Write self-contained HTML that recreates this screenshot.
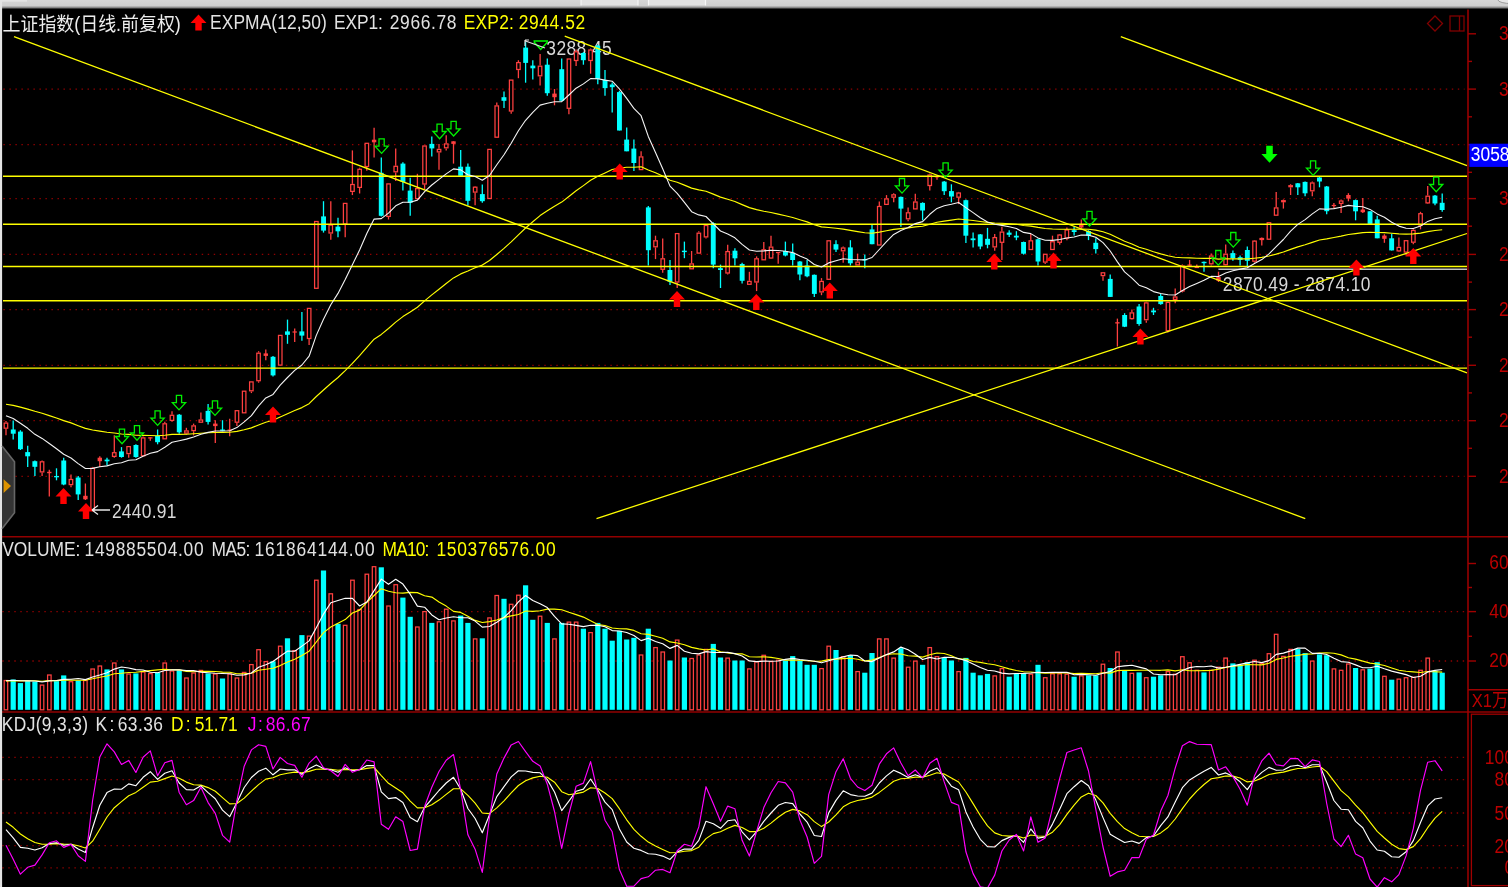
<!DOCTYPE html>
<html><head><meta charset="utf-8"><title>上证指数</title>
<style>html,body{margin:0;padding:0;background:#000;overflow:hidden}body{width:1508px;height:887px;position:relative}</style></head>
<body>
<svg width="1528" height="907" viewBox="-10 -10 1528 907" style="position:absolute;left:-10px;top:-10px;display:block;filter:blur(0.45px)" font-family="'Liberation Sans','Noto Sans CJK SC',sans-serif">
<defs><linearGradient id="tg" gradientUnits="userSpaceOnUse" x1="0" y1="0" x2="0" y2="9.5"><stop offset="0" stop-color="#d6d6d6"/><stop offset="0.6" stop-color="#cecece"/><stop offset="0.78" stop-color="#909090"/><stop offset="0.95" stop-color="#101010"/><stop offset="1" stop-color="#000"/></linearGradient></defs>
<rect x="-10" y="-10" width="1528" height="907" fill="#000"/>
<line x1="3.4" y1="89.1" x2="1464.5" y2="89.1" stroke="#900000" stroke-width="1.3" stroke-dasharray="1.4 4.61"/>
<line x1="3.4" y1="144.7" x2="1464.5" y2="144.7" stroke="#900000" stroke-width="1.3" stroke-dasharray="1.4 4.61"/>
<line x1="3.4" y1="198.6" x2="1464.5" y2="198.6" stroke="#900000" stroke-width="1.3" stroke-dasharray="1.4 4.61"/>
<line x1="3.4" y1="254.4" x2="1464.5" y2="254.4" stroke="#900000" stroke-width="1.3" stroke-dasharray="1.4 4.61"/>
<line x1="3.4" y1="309.6" x2="1464.5" y2="309.6" stroke="#900000" stroke-width="1.3" stroke-dasharray="1.4 4.61"/>
<line x1="3.4" y1="365.3" x2="1464.5" y2="365.3" stroke="#900000" stroke-width="1.3" stroke-dasharray="1.4 4.61"/>
<line x1="3.4" y1="420.7" x2="1464.5" y2="420.7" stroke="#900000" stroke-width="1.3" stroke-dasharray="1.4 4.61"/>
<line x1="3.4" y1="476.3" x2="1464.5" y2="476.3" stroke="#900000" stroke-width="1.3" stroke-dasharray="1.4 4.61"/>
<line x1="2.3" y1="611.6" x2="1464.5" y2="611.6" stroke="#900000" stroke-width="1.3" stroke-dasharray="1.4 4.61"/>
<line x1="2.3" y1="661" x2="1464.5" y2="661" stroke="#900000" stroke-width="1.3" stroke-dasharray="1.4 4.61"/>
<line x1="2.3" y1="757.4" x2="1464.5" y2="757.4" stroke="#900000" stroke-width="1.3" stroke-dasharray="1.4 4.61"/>
<line x1="2.3" y1="779.6" x2="1464.5" y2="779.6" stroke="#900000" stroke-width="1.3" stroke-dasharray="1.4 4.61"/>
<line x1="2.3" y1="813" x2="1464.5" y2="813" stroke="#900000" stroke-width="1.3" stroke-dasharray="1.4 4.61"/>
<line x1="2.3" y1="845.7" x2="1464.5" y2="845.7" stroke="#900000" stroke-width="1.3" stroke-dasharray="1.4 4.61"/>
<line x1="2.3" y1="867.8" x2="1464.5" y2="867.8" stroke="#900000" stroke-width="1.3" stroke-dasharray="1.4 4.61"/>
<text transform="translate(546.3,54.6) scale(1,1.14)" fill="#d8d8d8" font-size="17.4" letter-spacing="0.416">3288.45</text>
<text transform="translate(111.9,517.7) scale(1,1.14)" fill="#d8d8d8" font-size="17.4" letter-spacing="0.271">2440.91</text>
<text transform="translate(1222.8,291) scale(1,1.14)" fill="#d8d8d8" font-size="17.4" letter-spacing="0.412">2870.49 - 2874.10</text>
<line x1="6" y1="421.1" x2="6" y2="422.5" stroke="#ff4040" stroke-width="1.3"/>
<line x1="6" y1="428.8" x2="6" y2="435.2" stroke="#ff4040" stroke-width="1.3"/>
<rect x="4.2" y="423.1" width="3.5" height="5.1" fill="#000" stroke="#ff4040" stroke-width="1.25"/>
<line x1="13.2" y1="420.4" x2="13.2" y2="439.4" stroke="#00ffff" stroke-width="1.3"/>
<rect x="10.8" y="429.5" width="4.9" height="4.2" fill="#00ffff"/>
<line x1="20.4" y1="430.2" x2="20.4" y2="450" stroke="#00ffff" stroke-width="1.3"/>
<rect x="18" y="431.6" width="4.9" height="17.6" fill="#00ffff"/>
<line x1="27.7" y1="445.7" x2="27.7" y2="466.9" stroke="#00ffff" stroke-width="1.3"/>
<rect x="25.2" y="452.1" width="4.9" height="4.2" fill="#00ffff"/>
<line x1="34.9" y1="460.5" x2="34.9" y2="476" stroke="#00ffff" stroke-width="1.3"/>
<rect x="32.4" y="461.2" width="4.9" height="5.6" fill="#00ffff"/>
<line x1="42.1" y1="460.5" x2="42.1" y2="461.2" stroke="#ff4040" stroke-width="1.3"/>
<line x1="42.1" y1="472.5" x2="42.1" y2="476" stroke="#ff4040" stroke-width="1.3"/>
<rect x="40.3" y="461.8" width="3.5" height="10.1" fill="#000" stroke="#ff4040" stroke-width="1.25"/>
<line x1="49.3" y1="469.7" x2="49.3" y2="496.5" stroke="#ff4040" stroke-width="1.3"/>
<rect x="47.1" y="471.8" width="4.4" height="1.4" fill="#ff4040"/>
<line x1="56.5" y1="468.3" x2="56.5" y2="480.3" stroke="#00ffff" stroke-width="1.3"/>
<rect x="54.1" y="476" width="4.9" height="1.3" fill="#00ffff"/>
<line x1="63.7" y1="457.7" x2="63.7" y2="485.2" stroke="#00ffff" stroke-width="1.3"/>
<rect x="61.3" y="460.5" width="4.9" height="24" fill="#00ffff"/>
<line x1="71" y1="474.6" x2="71" y2="478.9" stroke="#ff4040" stroke-width="1.3"/>
<line x1="71" y1="485.2" x2="71" y2="487.3" stroke="#ff4040" stroke-width="1.3"/>
<rect x="69.2" y="479.5" width="3.5" height="5.1" fill="#000" stroke="#ff4040" stroke-width="1.25"/>
<line x1="78.2" y1="476" x2="78.2" y2="500" stroke="#00ffff" stroke-width="1.3"/>
<rect x="75.7" y="477.5" width="4.9" height="16.9" fill="#00ffff"/>
<line x1="85.4" y1="483.5" x2="85.4" y2="500" stroke="#ff4040" stroke-width="1.3"/>
<rect x="83.2" y="495.8" width="4.4" height="3.5" fill="#ff4040"/>
<line x1="92.6" y1="466.9" x2="92.6" y2="467.6" stroke="#ff4040" stroke-width="1.3"/>
<rect x="90.9" y="468.2" width="3.5" height="41.8" fill="#000" stroke="#ff4040" stroke-width="1.25"/>
<line x1="99.8" y1="456.3" x2="99.8" y2="466.9" stroke="#ff4040" stroke-width="1.3"/>
<rect x="97.6" y="457.7" width="4.4" height="3.5" fill="#ff4040"/>
<line x1="107" y1="457.7" x2="107" y2="465.5" stroke="#00ffff" stroke-width="1.3"/>
<rect x="104.6" y="459.6" width="4.9" height="1.7" fill="#00ffff"/>
<line x1="114.3" y1="435.2" x2="114.3" y2="452.1" stroke="#ff4040" stroke-width="1.3"/>
<line x1="114.3" y1="457" x2="114.3" y2="457.7" stroke="#ff4040" stroke-width="1.3"/>
<rect x="112.5" y="452.7" width="3.5" height="3.7" fill="#000" stroke="#ff4040" stroke-width="1.25"/>
<line x1="121.5" y1="447.1" x2="121.5" y2="457.7" stroke="#00ffff" stroke-width="1.3"/>
<rect x="119" y="451.4" width="4.9" height="5.6" fill="#00ffff"/>
<line x1="128.7" y1="454.2" x2="128.7" y2="457.7" stroke="#ff4040" stroke-width="1.3"/>
<rect x="126.9" y="446.6" width="3.5" height="7" fill="#000" stroke="#ff4040" stroke-width="1.25"/>
<line x1="135.9" y1="444.3" x2="135.9" y2="457.7" stroke="#00ffff" stroke-width="1.3"/>
<rect x="133.5" y="445" width="4.9" height="12" fill="#00ffff"/>
<line x1="143.1" y1="436.6" x2="143.1" y2="437.3" stroke="#ff4040" stroke-width="1.3"/>
<rect x="141.4" y="437.9" width="3.5" height="17.8" fill="#000" stroke="#ff4040" stroke-width="1.25"/>
<line x1="150.3" y1="437.3" x2="150.3" y2="440.8" stroke="#ff4040" stroke-width="1.3"/>
<rect x="148.1" y="437.3" width="4.4" height="1.2" fill="#ff4040"/>
<line x1="157.6" y1="429.5" x2="157.6" y2="444.3" stroke="#00ffff" stroke-width="1.3"/>
<rect x="155.1" y="435.9" width="4.9" height="6.3" fill="#00ffff"/>
<line x1="164.8" y1="421.8" x2="164.8" y2="423.2" stroke="#ff4040" stroke-width="1.3"/>
<rect x="163" y="423.8" width="3.5" height="15" fill="#000" stroke="#ff4040" stroke-width="1.25"/>
<line x1="172" y1="411.2" x2="172" y2="414.7" stroke="#ff4040" stroke-width="1.3"/>
<line x1="172" y1="421.1" x2="172" y2="421.8" stroke="#ff4040" stroke-width="1.3"/>
<rect x="170.2" y="415.3" width="3.5" height="5.1" fill="#000" stroke="#ff4040" stroke-width="1.25"/>
<line x1="179.2" y1="414" x2="179.2" y2="433.8" stroke="#00ffff" stroke-width="1.3"/>
<rect x="176.8" y="414.7" width="4.9" height="17.6" fill="#00ffff"/>
<line x1="186.4" y1="427.8" x2="186.4" y2="430.3" stroke="#ff4040" stroke-width="1.3"/>
<line x1="186.4" y1="433.7" x2="186.4" y2="434.6" stroke="#ff4040" stroke-width="1.3"/>
<rect x="184.7" y="430.9" width="3.5" height="2.2" fill="#000" stroke="#ff4040" stroke-width="1.25"/>
<line x1="193.6" y1="423.6" x2="193.6" y2="425.3" stroke="#ff4040" stroke-width="1.3"/>
<line x1="193.6" y1="431.2" x2="193.6" y2="435.4" stroke="#ff4040" stroke-width="1.3"/>
<rect x="191.9" y="425.9" width="3.5" height="4.7" fill="#000" stroke="#ff4040" stroke-width="1.25"/>
<line x1="200.9" y1="412.6" x2="200.9" y2="419.4" stroke="#ff4040" stroke-width="1.3"/>
<rect x="199.1" y="420" width="3.5" height="2.2" fill="#000" stroke="#ff4040" stroke-width="1.25"/>
<line x1="208.1" y1="404.1" x2="208.1" y2="424.4" stroke="#00ffff" stroke-width="1.3"/>
<rect x="205.6" y="410.9" width="4.9" height="11" fill="#00ffff"/>
<line x1="215.3" y1="420.2" x2="215.3" y2="442.9" stroke="#ff4040" stroke-width="1.3"/>
<rect x="213.1" y="423.6" width="4.4" height="2.5" fill="#ff4040"/>
<line x1="222.5" y1="420.2" x2="222.5" y2="431.2" stroke="#00ffff" stroke-width="1.3"/>
<rect x="220.1" y="429.5" width="4.9" height="1.3" fill="#00ffff"/>
<line x1="229.7" y1="418.8" x2="229.7" y2="436.3" stroke="#ff4040" stroke-width="1.3"/>
<rect x="227.5" y="429.5" width="4.4" height="1.2" fill="#ff4040"/>
<line x1="236.9" y1="422.7" x2="236.9" y2="426.1" stroke="#ff4040" stroke-width="1.3"/>
<rect x="235.2" y="410.7" width="3.5" height="11.5" fill="#000" stroke="#ff4040" stroke-width="1.25"/>
<rect x="242.4" y="391.2" width="3.5" height="21.6" fill="#000" stroke="#ff4040" stroke-width="1.25"/>
<line x1="251.4" y1="391.5" x2="251.4" y2="393.1" stroke="#ff4040" stroke-width="1.3"/>
<rect x="249.6" y="381.9" width="3.5" height="8.9" fill="#000" stroke="#ff4040" stroke-width="1.25"/>
<line x1="258.6" y1="351.2" x2="258.6" y2="352.6" stroke="#ff4040" stroke-width="1.3"/>
<line x1="258.6" y1="381.3" x2="258.6" y2="382.7" stroke="#ff4040" stroke-width="1.3"/>
<rect x="256.8" y="353.2" width="3.5" height="27.5" fill="#000" stroke="#ff4040" stroke-width="1.25"/>
<line x1="265.8" y1="349.5" x2="265.8" y2="360.2" stroke="#ff4040" stroke-width="1.3"/>
<rect x="263.6" y="353.4" width="4.4" height="2.5" fill="#ff4040"/>
<line x1="273" y1="355.9" x2="273" y2="376.6" stroke="#00ffff" stroke-width="1.3"/>
<rect x="270.6" y="356.8" width="4.9" height="18.6" fill="#00ffff"/>
<rect x="278.5" y="335.4" width="3.5" height="29.7" fill="#000" stroke="#ff4040" stroke-width="1.25"/>
<line x1="287.5" y1="319.6" x2="287.5" y2="343.8" stroke="#00ffff" stroke-width="1.3"/>
<rect x="285" y="331.4" width="4.9" height="3.4" fill="#00ffff"/>
<line x1="294.7" y1="328.6" x2="294.7" y2="342.1" stroke="#ff4040" stroke-width="1.3"/>
<rect x="292.5" y="331.4" width="4.4" height="1.2" fill="#ff4040"/>
<line x1="301.9" y1="312" x2="301.9" y2="340.7" stroke="#00ffff" stroke-width="1.3"/>
<rect x="299.4" y="331.4" width="4.9" height="4.2" fill="#00ffff"/>
<line x1="309.1" y1="339" x2="309.1" y2="345" stroke="#ff4040" stroke-width="1.3"/>
<rect x="307.4" y="308.4" width="3.5" height="30.1" fill="#000" stroke="#ff4040" stroke-width="1.25"/>
<rect x="314.6" y="221.5" width="3.5" height="66.8" fill="#000" stroke="#ff4040" stroke-width="1.25"/>
<line x1="323.5" y1="201.2" x2="323.5" y2="232.6" stroke="#00ffff" stroke-width="1.3"/>
<rect x="321.1" y="216.4" width="4.9" height="14.2" fill="#00ffff"/>
<line x1="330.8" y1="201.2" x2="330.8" y2="224.5" stroke="#ff4040" stroke-width="1.3"/>
<line x1="330.8" y1="233.7" x2="330.8" y2="239.7" stroke="#ff4040" stroke-width="1.3"/>
<rect x="329" y="225.1" width="3.5" height="7.9" fill="#000" stroke="#ff4040" stroke-width="1.25"/>
<line x1="338" y1="217.8" x2="338" y2="237.3" stroke="#00ffff" stroke-width="1.3"/>
<rect x="335.5" y="226.6" width="4.9" height="4.7" fill="#00ffff"/>
<line x1="345.2" y1="224.5" x2="345.2" y2="237.3" stroke="#ff4040" stroke-width="1.3"/>
<rect x="343.4" y="203.4" width="3.5" height="20.5" fill="#000" stroke="#ff4040" stroke-width="1.25"/>
<line x1="352.4" y1="150.4" x2="352.4" y2="183.9" stroke="#ff4040" stroke-width="1.3"/>
<line x1="352.4" y1="192.1" x2="352.4" y2="195.1" stroke="#ff4040" stroke-width="1.3"/>
<rect x="350.7" y="184.5" width="3.5" height="6.9" fill="#000" stroke="#ff4040" stroke-width="1.25"/>
<line x1="359.6" y1="167.7" x2="359.6" y2="168.7" stroke="#ff4040" stroke-width="1.3"/>
<line x1="359.6" y1="188" x2="359.6" y2="193.5" stroke="#ff4040" stroke-width="1.3"/>
<rect x="357.9" y="169.3" width="3.5" height="18.1" fill="#000" stroke="#ff4040" stroke-width="1.25"/>
<line x1="366.8" y1="167.1" x2="366.8" y2="170.7" stroke="#ff4040" stroke-width="1.3"/>
<rect x="365.1" y="143.3" width="3.5" height="23.2" fill="#000" stroke="#ff4040" stroke-width="1.25"/>
<line x1="374.1" y1="127.7" x2="374.1" y2="157.5" stroke="#ff4040" stroke-width="1.3"/>
<rect x="371.9" y="139.7" width="4.4" height="2.6" fill="#ff4040"/>
<line x1="381.3" y1="157.5" x2="381.3" y2="216.4" stroke="#00ffff" stroke-width="1.3"/>
<rect x="378.8" y="172.8" width="4.9" height="43" fill="#00ffff"/>
<line x1="388.5" y1="217" x2="388.5" y2="219.5" stroke="#ff4040" stroke-width="1.3"/>
<rect x="386.8" y="183.9" width="3.5" height="32.5" fill="#000" stroke="#ff4040" stroke-width="1.25"/>
<line x1="395.7" y1="148.4" x2="395.7" y2="165.7" stroke="#ff4040" stroke-width="1.3"/>
<line x1="395.7" y1="172.4" x2="395.7" y2="180.9" stroke="#ff4040" stroke-width="1.3"/>
<rect x="394" y="166.3" width="3.5" height="5.5" fill="#000" stroke="#ff4040" stroke-width="1.25"/>
<line x1="402.9" y1="162.2" x2="402.9" y2="190.6" stroke="#00ffff" stroke-width="1.3"/>
<rect x="400.5" y="163.6" width="4.9" height="18.3" fill="#00ffff"/>
<line x1="410.2" y1="177.8" x2="410.2" y2="215.8" stroke="#00ffff" stroke-width="1.3"/>
<rect x="407.7" y="190.6" width="4.9" height="12.2" fill="#00ffff"/>
<line x1="417.4" y1="173.8" x2="417.4" y2="188" stroke="#ff4040" stroke-width="1.3"/>
<rect x="415.6" y="188.6" width="3.5" height="10" fill="#000" stroke="#ff4040" stroke-width="1.25"/>
<line x1="424.6" y1="184.5" x2="424.6" y2="189" stroke="#ff4040" stroke-width="1.3"/>
<rect x="422.8" y="146" width="3.5" height="38" fill="#000" stroke="#ff4040" stroke-width="1.25"/>
<line x1="431.8" y1="136.6" x2="431.8" y2="156.5" stroke="#00ffff" stroke-width="1.3"/>
<rect x="429.4" y="143.9" width="4.9" height="4.5" fill="#00ffff"/>
<line x1="439" y1="143.9" x2="439" y2="148.8" stroke="#ff4040" stroke-width="1.3"/>
<line x1="439" y1="152.5" x2="439" y2="169.7" stroke="#ff4040" stroke-width="1.3"/>
<rect x="437.3" y="149.4" width="3.5" height="2.5" fill="#000" stroke="#ff4040" stroke-width="1.25"/>
<line x1="446.2" y1="135.2" x2="446.2" y2="143.3" stroke="#ff4040" stroke-width="1.3"/>
<line x1="446.2" y1="148.4" x2="446.2" y2="150.4" stroke="#ff4040" stroke-width="1.3"/>
<rect x="444.5" y="143.9" width="3.5" height="3.9" fill="#000" stroke="#ff4040" stroke-width="1.25"/>
<line x1="453.5" y1="141.3" x2="453.5" y2="163.6" stroke="#ff4040" stroke-width="1.3"/>
<rect x="451.3" y="141.3" width="4.4" height="2.6" fill="#ff4040"/>
<line x1="460.7" y1="150" x2="460.7" y2="175.8" stroke="#00ffff" stroke-width="1.3"/>
<rect x="458.2" y="166.7" width="4.9" height="9.1" fill="#00ffff"/>
<line x1="467.9" y1="163.6" x2="467.9" y2="205.2" stroke="#00ffff" stroke-width="1.3"/>
<rect x="465.4" y="166.7" width="4.9" height="34.1" fill="#00ffff"/>
<line x1="475.1" y1="186" x2="475.1" y2="186.6" stroke="#ff4040" stroke-width="1.3"/>
<line x1="475.1" y1="192.7" x2="475.1" y2="205.2" stroke="#ff4040" stroke-width="1.3"/>
<rect x="473.4" y="187.2" width="3.5" height="4.9" fill="#000" stroke="#ff4040" stroke-width="1.25"/>
<line x1="482.3" y1="184.5" x2="482.3" y2="202.8" stroke="#00ffff" stroke-width="1.3"/>
<rect x="479.9" y="194.1" width="4.9" height="7.1" fill="#00ffff"/>
<rect x="487.8" y="149.4" width="3.5" height="49.1" fill="#000" stroke="#ff4040" stroke-width="1.25"/>
<line x1="496.8" y1="102.6" x2="496.8" y2="105.3" stroke="#ff4040" stroke-width="1.3"/>
<rect x="495" y="105.9" width="3.5" height="31.3" fill="#000" stroke="#ff4040" stroke-width="1.25"/>
<line x1="504" y1="91.4" x2="504" y2="108" stroke="#00ffff" stroke-width="1.3"/>
<rect x="501.5" y="97.2" width="4.9" height="3.6" fill="#00ffff"/>
<line x1="511.2" y1="111.6" x2="511.2" y2="113.8" stroke="#ff4040" stroke-width="1.3"/>
<rect x="509.4" y="80.1" width="3.5" height="30.9" fill="#000" stroke="#ff4040" stroke-width="1.25"/>
<line x1="518.4" y1="60.2" x2="518.4" y2="62" stroke="#ff4040" stroke-width="1.3"/>
<line x1="518.4" y1="70.1" x2="518.4" y2="78.2" stroke="#ff4040" stroke-width="1.3"/>
<rect x="516.7" y="62.6" width="3.5" height="6.9" fill="#000" stroke="#ff4040" stroke-width="1.25"/>
<line x1="525.6" y1="42.1" x2="525.6" y2="82.7" stroke="#00ffff" stroke-width="1.3"/>
<rect x="523.2" y="47.6" width="4.9" height="15.3" fill="#00ffff"/>
<line x1="532.8" y1="60.2" x2="532.8" y2="79.5" stroke="#00ffff" stroke-width="1.3"/>
<rect x="530.4" y="65.6" width="4.9" height="2.7" fill="#00ffff"/>
<line x1="540.1" y1="53.9" x2="540.1" y2="65.6" stroke="#ff4040" stroke-width="1.3"/>
<line x1="540.1" y1="76.4" x2="540.1" y2="85.4" stroke="#ff4040" stroke-width="1.3"/>
<rect x="538.3" y="66.2" width="3.5" height="9.6" fill="#000" stroke="#ff4040" stroke-width="1.25"/>
<line x1="547.3" y1="58.4" x2="547.3" y2="95.7" stroke="#00ffff" stroke-width="1.3"/>
<rect x="544.8" y="64.7" width="4.9" height="28.5" fill="#00ffff"/>
<line x1="554.5" y1="89" x2="554.5" y2="105.3" stroke="#ff4040" stroke-width="1.3"/>
<rect x="552.3" y="93.6" width="4.4" height="3.6" fill="#ff4040"/>
<line x1="561.7" y1="58.4" x2="561.7" y2="100.8" stroke="#00ffff" stroke-width="1.3"/>
<rect x="559.3" y="69.2" width="4.9" height="31.6" fill="#00ffff"/>
<line x1="568.9" y1="108.9" x2="568.9" y2="114.3" stroke="#ff4040" stroke-width="1.3"/>
<rect x="567.2" y="59" width="3.5" height="49.3" fill="#000" stroke="#ff4040" stroke-width="1.25"/>
<line x1="576.1" y1="49.4" x2="576.1" y2="51.2" stroke="#ff4040" stroke-width="1.3"/>
<line x1="576.1" y1="61.1" x2="576.1" y2="66.1" stroke="#ff4040" stroke-width="1.3"/>
<rect x="574.4" y="51.8" width="3.5" height="8.7" fill="#000" stroke="#ff4040" stroke-width="1.25"/>
<line x1="583.4" y1="52.1" x2="583.4" y2="64.7" stroke="#00ffff" stroke-width="1.3"/>
<rect x="580.9" y="53" width="4.9" height="7.2" fill="#00ffff"/>
<line x1="590.6" y1="48.5" x2="590.6" y2="49.4" stroke="#ff4040" stroke-width="1.3"/>
<line x1="590.6" y1="61.1" x2="590.6" y2="73.7" stroke="#ff4040" stroke-width="1.3"/>
<rect x="588.8" y="50" width="3.5" height="10.5" fill="#000" stroke="#ff4040" stroke-width="1.25"/>
<line x1="597.8" y1="44.8" x2="597.8" y2="84.2" stroke="#00ffff" stroke-width="1.3"/>
<rect x="595.3" y="45.7" width="4.9" height="33.4" fill="#00ffff"/>
<line x1="605" y1="70.1" x2="605" y2="95.7" stroke="#00ffff" stroke-width="1.3"/>
<rect x="602.6" y="80" width="4.9" height="8.1" fill="#00ffff"/>
<line x1="612.2" y1="82.4" x2="612.2" y2="112.5" stroke="#00ffff" stroke-width="1.3"/>
<rect x="609.8" y="84.5" width="4.9" height="2.7" fill="#00ffff"/>
<line x1="619.4" y1="90.8" x2="619.4" y2="130.5" stroke="#00ffff" stroke-width="1.3"/>
<rect x="617" y="92.1" width="4.9" height="38.4" fill="#00ffff"/>
<line x1="626.7" y1="127.5" x2="626.7" y2="151.3" stroke="#00ffff" stroke-width="1.3"/>
<rect x="624.2" y="139.6" width="4.9" height="11.7" fill="#00ffff"/>
<line x1="633.9" y1="139.6" x2="633.9" y2="171.1" stroke="#00ffff" stroke-width="1.3"/>
<rect x="631.4" y="148.6" width="4.9" height="14.4" fill="#00ffff"/>
<line x1="641.1" y1="151.3" x2="641.1" y2="156.3" stroke="#ff4040" stroke-width="1.3"/>
<rect x="639.3" y="156.9" width="3.5" height="12.7" fill="#000" stroke="#ff4040" stroke-width="1.25"/>
<line x1="648.3" y1="205.9" x2="648.3" y2="265.5" stroke="#00ffff" stroke-width="1.3"/>
<rect x="645.9" y="207.4" width="4.9" height="42.8" fill="#00ffff"/>
<line x1="655.5" y1="235.7" x2="655.5" y2="240.2" stroke="#ff4040" stroke-width="1.3"/>
<line x1="655.5" y1="247.4" x2="655.5" y2="259.1" stroke="#ff4040" stroke-width="1.3"/>
<rect x="653.8" y="240.8" width="3.5" height="6" fill="#000" stroke="#ff4040" stroke-width="1.25"/>
<line x1="662.7" y1="238.4" x2="662.7" y2="258.2" stroke="#ff4040" stroke-width="1.3"/>
<line x1="662.7" y1="270" x2="662.7" y2="272.7" stroke="#ff4040" stroke-width="1.3"/>
<rect x="661" y="258.8" width="3.5" height="10.5" fill="#000" stroke="#ff4040" stroke-width="1.25"/>
<line x1="670" y1="260" x2="670" y2="284.9" stroke="#00ffff" stroke-width="1.3"/>
<rect x="667.5" y="270" width="4.9" height="11.7" fill="#00ffff"/>
<line x1="677.2" y1="282.6" x2="677.2" y2="288" stroke="#ff4040" stroke-width="1.3"/>
<rect x="675.4" y="233.6" width="3.5" height="48.4" fill="#000" stroke="#ff4040" stroke-width="1.25"/>
<line x1="684.4" y1="241.6" x2="684.4" y2="258.2" stroke="#00ffff" stroke-width="1.3"/>
<rect x="681.9" y="250.7" width="4.9" height="1.4" fill="#00ffff"/>
<line x1="691.6" y1="251" x2="691.6" y2="263.3" stroke="#ff4040" stroke-width="1.3"/>
<rect x="689.9" y="263.9" width="3.5" height="4.9" fill="#000" stroke="#ff4040" stroke-width="1.25"/>
<line x1="698.8" y1="231.2" x2="698.8" y2="232.6" stroke="#ff4040" stroke-width="1.3"/>
<rect x="697.1" y="233.2" width="3.5" height="19.9" fill="#000" stroke="#ff4040" stroke-width="1.25"/>
<line x1="706" y1="237.5" x2="706" y2="238.4" stroke="#ff4040" stroke-width="1.3"/>
<rect x="704.3" y="225.5" width="3.5" height="11.4" fill="#000" stroke="#ff4040" stroke-width="1.25"/>
<line x1="713.3" y1="222.2" x2="713.3" y2="268.2" stroke="#00ffff" stroke-width="1.3"/>
<rect x="710.8" y="223.1" width="4.9" height="41.5" fill="#00ffff"/>
<line x1="720.5" y1="264.6" x2="720.5" y2="288" stroke="#00ffff" stroke-width="1.3"/>
<rect x="718" y="268.2" width="4.9" height="1.8" fill="#00ffff"/>
<line x1="727.7" y1="244.7" x2="727.7" y2="251" stroke="#ff4040" stroke-width="1.3"/>
<line x1="727.7" y1="273.6" x2="727.7" y2="274.5" stroke="#ff4040" stroke-width="1.3"/>
<rect x="725.9" y="251.6" width="3.5" height="21.4" fill="#000" stroke="#ff4040" stroke-width="1.25"/>
<line x1="734.9" y1="248.3" x2="734.9" y2="265.5" stroke="#00ffff" stroke-width="1.3"/>
<rect x="732.5" y="250.7" width="4.9" height="7.6" fill="#00ffff"/>
<line x1="742.1" y1="262.8" x2="742.1" y2="283.5" stroke="#00ffff" stroke-width="1.3"/>
<rect x="739.7" y="264" width="4.9" height="16.8" fill="#00ffff"/>
<line x1="749.4" y1="271.8" x2="749.4" y2="280.8" stroke="#ff4040" stroke-width="1.3"/>
<rect x="747.6" y="281.4" width="3.5" height="2.9" fill="#000" stroke="#ff4040" stroke-width="1.25"/>
<line x1="756.6" y1="256.4" x2="756.6" y2="258.2" stroke="#ff4040" stroke-width="1.3"/>
<line x1="756.6" y1="282.6" x2="756.6" y2="291.1" stroke="#ff4040" stroke-width="1.3"/>
<rect x="754.8" y="258.8" width="3.5" height="23.2" fill="#000" stroke="#ff4040" stroke-width="1.25"/>
<line x1="763.8" y1="242" x2="763.8" y2="249.2" stroke="#ff4040" stroke-width="1.3"/>
<rect x="762" y="249.8" width="3.5" height="10" fill="#000" stroke="#ff4040" stroke-width="1.25"/>
<line x1="771" y1="235.7" x2="771" y2="246.5" stroke="#ff4040" stroke-width="1.3"/>
<line x1="771" y1="258.6" x2="771" y2="259.1" stroke="#ff4040" stroke-width="1.3"/>
<rect x="769.3" y="247.1" width="3.5" height="10.9" fill="#000" stroke="#ff4040" stroke-width="1.25"/>
<line x1="778.2" y1="251.9" x2="778.2" y2="263.7" stroke="#ff4040" stroke-width="1.3"/>
<rect x="776" y="251.9" width="4.4" height="1.3" fill="#ff4040"/>
<line x1="785.4" y1="241.6" x2="785.4" y2="256.4" stroke="#00ffff" stroke-width="1.3"/>
<rect x="783" y="251" width="4.9" height="4.5" fill="#00ffff"/>
<line x1="792.7" y1="243.5" x2="792.7" y2="265.5" stroke="#00ffff" stroke-width="1.3"/>
<rect x="790.2" y="252.8" width="4.9" height="7.2" fill="#00ffff"/>
<line x1="799.9" y1="261" x2="799.9" y2="280.3" stroke="#00ffff" stroke-width="1.3"/>
<rect x="797.4" y="261.5" width="4.9" height="13" fill="#00ffff"/>
<line x1="807.1" y1="260" x2="807.1" y2="277.2" stroke="#00ffff" stroke-width="1.3"/>
<rect x="804.6" y="265.5" width="4.9" height="10.8" fill="#00ffff"/>
<line x1="814.3" y1="274.5" x2="814.3" y2="297" stroke="#00ffff" stroke-width="1.3"/>
<rect x="811.9" y="274.8" width="4.9" height="19.1" fill="#00ffff"/>
<line x1="821.5" y1="278.1" x2="821.5" y2="280.8" stroke="#ff4040" stroke-width="1.3"/>
<line x1="821.5" y1="292.5" x2="821.5" y2="295.2" stroke="#ff4040" stroke-width="1.3"/>
<rect x="819.8" y="281.4" width="3.5" height="10.5" fill="#000" stroke="#ff4040" stroke-width="1.25"/>
<rect x="827" y="240.8" width="3.5" height="38.5" fill="#000" stroke="#ff4040" stroke-width="1.25"/>
<line x1="836" y1="240.2" x2="836" y2="251.9" stroke="#00ffff" stroke-width="1.3"/>
<rect x="833.5" y="244.2" width="4.9" height="5.4" fill="#00ffff"/>
<line x1="843.2" y1="246.5" x2="843.2" y2="247.4" stroke="#ff4040" stroke-width="1.3"/>
<line x1="843.2" y1="251.4" x2="843.2" y2="262.8" stroke="#ff4040" stroke-width="1.3"/>
<rect x="841.4" y="248" width="3.5" height="2.8" fill="#000" stroke="#ff4040" stroke-width="1.25"/>
<line x1="850.4" y1="240.2" x2="850.4" y2="265.5" stroke="#00ffff" stroke-width="1.3"/>
<rect x="847.9" y="247.4" width="4.9" height="15.9" fill="#00ffff"/>
<line x1="857.6" y1="253.7" x2="857.6" y2="261.5" stroke="#ff4040" stroke-width="1.3"/>
<rect x="855.9" y="262.1" width="3.5" height="2.8" fill="#000" stroke="#ff4040" stroke-width="1.25"/>
<line x1="864.8" y1="254.6" x2="864.8" y2="268.2" stroke="#00ffff" stroke-width="1.3"/>
<rect x="862.4" y="259.1" width="4.9" height="1.3" fill="#00ffff"/>
<line x1="872" y1="224.9" x2="872" y2="244.2" stroke="#00ffff" stroke-width="1.3"/>
<rect x="869.6" y="229.4" width="4.9" height="14.8" fill="#00ffff"/>
<line x1="879.3" y1="201.4" x2="879.3" y2="205.9" stroke="#ff4040" stroke-width="1.3"/>
<rect x="877.5" y="206.5" width="3.5" height="38.5" fill="#000" stroke="#ff4040" stroke-width="1.25"/>
<line x1="886.5" y1="195.1" x2="886.5" y2="198.3" stroke="#ff4040" stroke-width="1.3"/>
<rect x="884.7" y="198.9" width="3.5" height="5.5" fill="#000" stroke="#ff4040" stroke-width="1.25"/>
<line x1="893.7" y1="193.3" x2="893.7" y2="194.2" stroke="#ff4040" stroke-width="1.3"/>
<line x1="893.7" y1="197.8" x2="893.7" y2="202.3" stroke="#ff4040" stroke-width="1.3"/>
<rect x="891.9" y="194.8" width="3.5" height="2.4" fill="#000" stroke="#ff4040" stroke-width="1.25"/>
<line x1="900.9" y1="196.5" x2="900.9" y2="226.7" stroke="#00ffff" stroke-width="1.3"/>
<rect x="898.5" y="196.9" width="4.9" height="11.7" fill="#00ffff"/>
<line x1="908.1" y1="207.4" x2="908.1" y2="212.2" stroke="#ff4040" stroke-width="1.3"/>
<line x1="908.1" y1="219.5" x2="908.1" y2="221.3" stroke="#ff4040" stroke-width="1.3"/>
<rect x="906.4" y="212.8" width="3.5" height="6" fill="#000" stroke="#ff4040" stroke-width="1.25"/>
<line x1="915.3" y1="193.7" x2="915.3" y2="201.4" stroke="#ff4040" stroke-width="1.3"/>
<rect x="913.6" y="202" width="3.5" height="6.9" fill="#000" stroke="#ff4040" stroke-width="1.25"/>
<line x1="922.6" y1="202.3" x2="922.6" y2="220.4" stroke="#00ffff" stroke-width="1.3"/>
<rect x="920.1" y="202.9" width="4.9" height="7.6" fill="#00ffff"/>
<line x1="929.8" y1="173.5" x2="929.8" y2="174.4" stroke="#ff4040" stroke-width="1.3"/>
<line x1="929.8" y1="186.1" x2="929.8" y2="190.6" stroke="#ff4040" stroke-width="1.3"/>
<rect x="928" y="175" width="3.5" height="10.5" fill="#000" stroke="#ff4040" stroke-width="1.25"/>
<line x1="937" y1="175.3" x2="937" y2="179.8" stroke="#ff4040" stroke-width="1.3"/>
<rect x="934.8" y="176.2" width="4.4" height="1.2" fill="#ff4040"/>
<line x1="944.2" y1="181" x2="944.2" y2="195.1" stroke="#00ffff" stroke-width="1.3"/>
<rect x="941.8" y="181.6" width="4.9" height="9.6" fill="#00ffff"/>
<line x1="951.4" y1="184.3" x2="951.4" y2="202.3" stroke="#00ffff" stroke-width="1.3"/>
<rect x="949" y="191.1" width="4.9" height="5.4" fill="#00ffff"/>
<line x1="958.6" y1="191.9" x2="958.6" y2="192.4" stroke="#ff4040" stroke-width="1.3"/>
<line x1="958.6" y1="197.8" x2="958.6" y2="204.1" stroke="#ff4040" stroke-width="1.3"/>
<rect x="956.9" y="193" width="3.5" height="4.2" fill="#000" stroke="#ff4040" stroke-width="1.25"/>
<line x1="965.9" y1="199.6" x2="965.9" y2="242.9" stroke="#00ffff" stroke-width="1.3"/>
<rect x="963.4" y="200.2" width="4.9" height="35.5" fill="#00ffff"/>
<line x1="973.1" y1="232.6" x2="973.1" y2="247.4" stroke="#00ffff" stroke-width="1.3"/>
<rect x="970.6" y="238.4" width="4.9" height="1.8" fill="#00ffff"/>
<line x1="980.3" y1="233.9" x2="980.3" y2="249.2" stroke="#00ffff" stroke-width="1.3"/>
<rect x="977.8" y="234.4" width="4.9" height="12.1" fill="#00ffff"/>
<line x1="987.5" y1="227.9" x2="987.5" y2="248.3" stroke="#00ffff" stroke-width="1.3"/>
<rect x="985.1" y="238.8" width="4.9" height="6" fill="#00ffff"/>
<line x1="994.7" y1="233.9" x2="994.7" y2="237" stroke="#ff4040" stroke-width="1.3"/>
<line x1="994.7" y1="247.4" x2="994.7" y2="250.7" stroke="#ff4040" stroke-width="1.3"/>
<rect x="993" y="237.6" width="3.5" height="9.3" fill="#000" stroke="#ff4040" stroke-width="1.25"/>
<line x1="1001.9" y1="226.7" x2="1001.9" y2="231.5" stroke="#ff4040" stroke-width="1.3"/>
<line x1="1001.9" y1="242.9" x2="1001.9" y2="260" stroke="#ff4040" stroke-width="1.3"/>
<rect x="1000.2" y="232.1" width="3.5" height="10.2" fill="#000" stroke="#ff4040" stroke-width="1.25"/>
<line x1="1009.2" y1="230.3" x2="1009.2" y2="237" stroke="#00ffff" stroke-width="1.3"/>
<rect x="1006.7" y="232.6" width="4.9" height="2.2" fill="#00ffff"/>
<line x1="1016.4" y1="231.2" x2="1016.4" y2="240.2" stroke="#00ffff" stroke-width="1.3"/>
<rect x="1013.9" y="235.7" width="4.9" height="1.8" fill="#00ffff"/>
<line x1="1023.6" y1="241.6" x2="1023.6" y2="254.6" stroke="#00ffff" stroke-width="1.3"/>
<rect x="1021.1" y="242" width="4.9" height="11.7" fill="#00ffff"/>
<line x1="1030.8" y1="233.9" x2="1030.8" y2="240.2" stroke="#ff4040" stroke-width="1.3"/>
<rect x="1029.1" y="240.8" width="3.5" height="8.7" fill="#000" stroke="#ff4040" stroke-width="1.25"/>
<line x1="1038" y1="238.4" x2="1038" y2="265.5" stroke="#00ffff" stroke-width="1.3"/>
<rect x="1035.6" y="239.3" width="4.9" height="22.2" fill="#00ffff"/>
<line x1="1045.2" y1="262.8" x2="1045.2" y2="264" stroke="#ff4040" stroke-width="1.3"/>
<rect x="1043.5" y="254.3" width="3.5" height="7.8" fill="#000" stroke="#ff4040" stroke-width="1.25"/>
<line x1="1052.5" y1="235.7" x2="1052.5" y2="241.1" stroke="#ff4040" stroke-width="1.3"/>
<rect x="1050.7" y="241.7" width="3.5" height="7.8" fill="#000" stroke="#ff4040" stroke-width="1.25"/>
<line x1="1059.7" y1="233.9" x2="1059.7" y2="234.4" stroke="#ff4040" stroke-width="1.3"/>
<line x1="1059.7" y1="242.9" x2="1059.7" y2="244.7" stroke="#ff4040" stroke-width="1.3"/>
<rect x="1057.9" y="235" width="3.5" height="7.3" fill="#000" stroke="#ff4040" stroke-width="1.25"/>
<line x1="1066.9" y1="227.6" x2="1066.9" y2="229.4" stroke="#ff4040" stroke-width="1.3"/>
<line x1="1066.9" y1="238.8" x2="1066.9" y2="240.2" stroke="#ff4040" stroke-width="1.3"/>
<rect x="1065.1" y="230" width="3.5" height="8.2" fill="#000" stroke="#ff4040" stroke-width="1.25"/>
<line x1="1074.1" y1="226.6" x2="1074.1" y2="235.6" stroke="#00ffff" stroke-width="1.3"/>
<rect x="1071.7" y="230.2" width="4.9" height="1.8" fill="#00ffff"/>
<line x1="1081.3" y1="219.4" x2="1081.3" y2="228.4" stroke="#ff4040" stroke-width="1.3"/>
<rect x="1079.1" y="223.9" width="4.4" height="3.6" fill="#ff4040"/>
<line x1="1088.5" y1="230.2" x2="1088.5" y2="240.1" stroke="#00ffff" stroke-width="1.3"/>
<rect x="1086.1" y="231.1" width="4.9" height="4.5" fill="#00ffff"/>
<line x1="1095.8" y1="238.3" x2="1095.8" y2="253.6" stroke="#00ffff" stroke-width="1.3"/>
<rect x="1093.3" y="242.8" width="4.9" height="6.3" fill="#00ffff"/>
<line x1="1103" y1="276.2" x2="1103" y2="280.7" stroke="#ff4040" stroke-width="1.3"/>
<rect x="1101.2" y="272.8" width="3.5" height="2.8" fill="#000" stroke="#ff4040" stroke-width="1.25"/>
<line x1="1110.2" y1="274.4" x2="1110.2" y2="296.9" stroke="#00ffff" stroke-width="1.3"/>
<rect x="1107.8" y="278.9" width="4.9" height="18" fill="#00ffff"/>
<line x1="1117.4" y1="318.6" x2="1117.4" y2="346.5" stroke="#ff4040" stroke-width="1.3"/>
<rect x="1115.2" y="322.2" width="4.4" height="1.3" fill="#ff4040"/>
<line x1="1124.6" y1="313.2" x2="1124.6" y2="327.1" stroke="#00ffff" stroke-width="1.3"/>
<rect x="1122.2" y="315" width="4.9" height="11.7" fill="#00ffff"/>
<line x1="1131.9" y1="309.6" x2="1131.9" y2="312.3" stroke="#ff4040" stroke-width="1.3"/>
<line x1="1131.9" y1="319.1" x2="1131.9" y2="319.5" stroke="#ff4040" stroke-width="1.3"/>
<rect x="1130.1" y="312.9" width="3.5" height="5.7" fill="#000" stroke="#ff4040" stroke-width="1.25"/>
<line x1="1139.1" y1="304.1" x2="1139.1" y2="325.8" stroke="#00ffff" stroke-width="1.3"/>
<rect x="1136.6" y="306.5" width="4.9" height="17.5" fill="#00ffff"/>
<line x1="1146.3" y1="301.8" x2="1146.3" y2="302.3" stroke="#ff4040" stroke-width="1.3"/>
<line x1="1146.3" y1="320.4" x2="1146.3" y2="322.7" stroke="#ff4040" stroke-width="1.3"/>
<rect x="1144.5" y="302.9" width="3.5" height="16.8" fill="#000" stroke="#ff4040" stroke-width="1.25"/>
<line x1="1153.5" y1="307.8" x2="1153.5" y2="315" stroke="#00ffff" stroke-width="1.3"/>
<rect x="1151.1" y="310.5" width="4.9" height="1.8" fill="#00ffff"/>
<line x1="1160.7" y1="293.9" x2="1160.7" y2="304.7" stroke="#00ffff" stroke-width="1.3"/>
<rect x="1158.3" y="296" width="4.9" height="8.1" fill="#00ffff"/>
<line x1="1167.9" y1="301.4" x2="1167.9" y2="301.8" stroke="#ff4040" stroke-width="1.3"/>
<line x1="1167.9" y1="331.2" x2="1167.9" y2="332.5" stroke="#ff4040" stroke-width="1.3"/>
<rect x="1166.2" y="302.4" width="3.5" height="28.2" fill="#000" stroke="#ff4040" stroke-width="1.25"/>
<line x1="1175.2" y1="288.5" x2="1175.2" y2="296.4" stroke="#ff4040" stroke-width="1.3"/>
<line x1="1175.2" y1="300" x2="1175.2" y2="303.2" stroke="#ff4040" stroke-width="1.3"/>
<rect x="1173.4" y="297" width="3.5" height="2.4" fill="#000" stroke="#ff4040" stroke-width="1.25"/>
<line x1="1182.4" y1="264.5" x2="1182.4" y2="265.4" stroke="#ff4040" stroke-width="1.3"/>
<line x1="1182.4" y1="291.5" x2="1182.4" y2="292.4" stroke="#ff4040" stroke-width="1.3"/>
<rect x="1180.6" y="266" width="3.5" height="25" fill="#000" stroke="#ff4040" stroke-width="1.25"/>
<line x1="1189.6" y1="259.9" x2="1189.6" y2="266.3" stroke="#ff4040" stroke-width="1.3"/>
<rect x="1187.4" y="264.5" width="4.4" height="1.3" fill="#ff4040"/>
<line x1="1196.8" y1="264.5" x2="1196.8" y2="268.1" stroke="#ff4040" stroke-width="1.3"/>
<rect x="1194.6" y="266.3" width="4.4" height="1.8" fill="#ff4040"/>
<line x1="1204" y1="261.4" x2="1204" y2="271.7" stroke="#00ffff" stroke-width="1.3"/>
<rect x="1201.6" y="261.8" width="4.9" height="1.4" fill="#00ffff"/>
<line x1="1211.2" y1="253.6" x2="1211.2" y2="255.4" stroke="#ff4040" stroke-width="1.3"/>
<line x1="1211.2" y1="264.5" x2="1211.2" y2="265.4" stroke="#ff4040" stroke-width="1.3"/>
<rect x="1209.5" y="256" width="3.5" height="7.8" fill="#000" stroke="#ff4040" stroke-width="1.25"/>
<line x1="1218.5" y1="271.7" x2="1218.5" y2="282" stroke="#ff4040" stroke-width="1.3"/>
<rect x="1216.3" y="277.1" width="4.4" height="3.6" fill="#ff4040"/>
<line x1="1225.7" y1="244.6" x2="1225.7" y2="253.6" stroke="#ff4040" stroke-width="1.3"/>
<line x1="1225.7" y1="265.4" x2="1225.7" y2="265.7" stroke="#ff4040" stroke-width="1.3"/>
<rect x="1223.9" y="254.2" width="3.5" height="10.5" fill="#000" stroke="#ff4040" stroke-width="1.25"/>
<line x1="1232.9" y1="250.6" x2="1232.9" y2="260.8" stroke="#00ffff" stroke-width="1.3"/>
<rect x="1230.4" y="253.1" width="4.9" height="5.1" fill="#00ffff"/>
<line x1="1240.1" y1="255.4" x2="1240.1" y2="265.4" stroke="#00ffff" stroke-width="1.3"/>
<rect x="1237.7" y="257.2" width="4.9" height="2.7" fill="#00ffff"/>
<line x1="1247.3" y1="246.4" x2="1247.3" y2="266.3" stroke="#00ffff" stroke-width="1.3"/>
<rect x="1244.9" y="250" width="4.9" height="10.8" fill="#00ffff"/>
<line x1="1254.5" y1="240.1" x2="1254.5" y2="240.5" stroke="#ff4040" stroke-width="1.3"/>
<line x1="1254.5" y1="261.8" x2="1254.5" y2="262.7" stroke="#ff4040" stroke-width="1.3"/>
<rect x="1252.8" y="241.1" width="3.5" height="20.1" fill="#000" stroke="#ff4040" stroke-width="1.25"/>
<line x1="1261.8" y1="237.4" x2="1261.8" y2="237.9" stroke="#ff4040" stroke-width="1.3"/>
<line x1="1261.8" y1="240.1" x2="1261.8" y2="245.5" stroke="#ff4040" stroke-width="1.3"/>
<rect x="1260" y="238.5" width="3.5" height="1" fill="#000" stroke="#ff4040" stroke-width="1.25"/>
<line x1="1269" y1="239.7" x2="1269" y2="240.1" stroke="#ff4040" stroke-width="1.3"/>
<rect x="1267.2" y="222.7" width="3.5" height="16.5" fill="#000" stroke="#ff4040" stroke-width="1.25"/>
<line x1="1276.2" y1="192" x2="1276.2" y2="207.3" stroke="#ff4040" stroke-width="1.3"/>
<rect x="1274.4" y="207.9" width="3.5" height="7.3" fill="#000" stroke="#ff4040" stroke-width="1.25"/>
<line x1="1283.4" y1="199.5" x2="1283.4" y2="200.1" stroke="#ff4040" stroke-width="1.3"/>
<line x1="1283.4" y1="202.2" x2="1283.4" y2="208.6" stroke="#ff4040" stroke-width="1.3"/>
<rect x="1281.7" y="200.7" width="3.5" height="1" fill="#000" stroke="#ff4040" stroke-width="1.25"/>
<line x1="1290.6" y1="184.2" x2="1290.6" y2="185.1" stroke="#ff4040" stroke-width="1.3"/>
<line x1="1290.6" y1="187.3" x2="1290.6" y2="195" stroke="#ff4040" stroke-width="1.3"/>
<rect x="1288.9" y="185.7" width="3.5" height="1" fill="#000" stroke="#ff4040" stroke-width="1.25"/>
<line x1="1297.8" y1="182.9" x2="1297.8" y2="195" stroke="#00ffff" stroke-width="1.3"/>
<rect x="1295.4" y="183.3" width="4.9" height="4" fill="#00ffff"/>
<line x1="1305.1" y1="181.5" x2="1305.1" y2="196.3" stroke="#00ffff" stroke-width="1.3"/>
<rect x="1302.6" y="181.9" width="4.9" height="11.4" fill="#00ffff"/>
<line x1="1312.3" y1="181.5" x2="1312.3" y2="182.4" stroke="#ff4040" stroke-width="1.3"/>
<line x1="1312.3" y1="191.4" x2="1312.3" y2="196.3" stroke="#ff4040" stroke-width="1.3"/>
<rect x="1310.5" y="183" width="3.5" height="7.8" fill="#000" stroke="#ff4040" stroke-width="1.25"/>
<line x1="1319.5" y1="177" x2="1319.5" y2="187.3" stroke="#00ffff" stroke-width="1.3"/>
<rect x="1317" y="177.5" width="4.9" height="4" fill="#00ffff"/>
<line x1="1326.7" y1="186" x2="1326.7" y2="214.3" stroke="#00ffff" stroke-width="1.3"/>
<rect x="1324.3" y="186.5" width="4.9" height="24.7" fill="#00ffff"/>
<line x1="1333.9" y1="203.1" x2="1333.9" y2="208.6" stroke="#ff4040" stroke-width="1.3"/>
<rect x="1331.7" y="204.9" width="4.4" height="1.2" fill="#ff4040"/>
<line x1="1341.1" y1="199.5" x2="1341.1" y2="200.4" stroke="#ff4040" stroke-width="1.3"/>
<line x1="1341.1" y1="204" x2="1341.1" y2="213.1" stroke="#ff4040" stroke-width="1.3"/>
<rect x="1339.4" y="201" width="3.5" height="2.4" fill="#000" stroke="#ff4040" stroke-width="1.25"/>
<line x1="1348.4" y1="193.2" x2="1348.4" y2="201.3" stroke="#ff4040" stroke-width="1.3"/>
<rect x="1346.2" y="195" width="4.4" height="3.6" fill="#ff4040"/>
<line x1="1355.6" y1="199.5" x2="1355.6" y2="220.3" stroke="#00ffff" stroke-width="1.3"/>
<rect x="1353.1" y="200.1" width="4.9" height="11.2" fill="#00ffff"/>
<line x1="1362.8" y1="198.1" x2="1362.8" y2="213.1" stroke="#ff4040" stroke-width="1.3"/>
<rect x="1360.6" y="209.5" width="4.4" height="2.7" fill="#ff4040"/>
<line x1="1370" y1="211.3" x2="1370" y2="223.9" stroke="#00ffff" stroke-width="1.3"/>
<rect x="1367.6" y="211.3" width="4.9" height="12.6" fill="#00ffff"/>
<line x1="1377.2" y1="215.8" x2="1377.2" y2="238.3" stroke="#00ffff" stroke-width="1.3"/>
<rect x="1374.8" y="219.4" width="4.9" height="18.9" fill="#00ffff"/>
<line x1="1384.4" y1="234.2" x2="1384.4" y2="242.8" stroke="#ff4040" stroke-width="1.3"/>
<rect x="1382.2" y="235.6" width="4.4" height="3.2" fill="#ff4040"/>
<line x1="1391.7" y1="233.8" x2="1391.7" y2="250.4" stroke="#00ffff" stroke-width="1.3"/>
<rect x="1389.2" y="238.3" width="4.9" height="12.1" fill="#00ffff"/>
<line x1="1398.9" y1="237.4" x2="1398.9" y2="246.8" stroke="#ff4040" stroke-width="1.3"/>
<line x1="1398.9" y1="251.5" x2="1398.9" y2="251.9" stroke="#ff4040" stroke-width="1.3"/>
<rect x="1397.1" y="247.4" width="3.5" height="3.5" fill="#000" stroke="#ff4040" stroke-width="1.25"/>
<line x1="1406.1" y1="252.8" x2="1406.1" y2="255.5" stroke="#ff4040" stroke-width="1.3"/>
<rect x="1404.3" y="240.7" width="3.5" height="11.4" fill="#000" stroke="#ff4040" stroke-width="1.25"/>
<line x1="1413.3" y1="228.4" x2="1413.3" y2="229.8" stroke="#ff4040" stroke-width="1.3"/>
<line x1="1413.3" y1="242.8" x2="1413.3" y2="244.3" stroke="#ff4040" stroke-width="1.3"/>
<rect x="1411.6" y="230.4" width="3.5" height="11.8" fill="#000" stroke="#ff4040" stroke-width="1.25"/>
<line x1="1420.5" y1="211.8" x2="1420.5" y2="213.1" stroke="#ff4040" stroke-width="1.3"/>
<line x1="1420.5" y1="225.7" x2="1420.5" y2="229.3" stroke="#ff4040" stroke-width="1.3"/>
<rect x="1418.8" y="213.7" width="3.5" height="11.4" fill="#000" stroke="#ff4040" stroke-width="1.25"/>
<line x1="1427.7" y1="186" x2="1427.7" y2="195.6" stroke="#ff4040" stroke-width="1.3"/>
<line x1="1427.7" y1="203.5" x2="1427.7" y2="204" stroke="#ff4040" stroke-width="1.3"/>
<rect x="1426" y="196.2" width="3.5" height="6.7" fill="#000" stroke="#ff4040" stroke-width="1.25"/>
<line x1="1435" y1="195" x2="1435" y2="205.3" stroke="#00ffff" stroke-width="1.3"/>
<rect x="1432.5" y="195.6" width="4.9" height="7.9" fill="#00ffff"/>
<line x1="1442.2" y1="193.6" x2="1442.2" y2="211.8" stroke="#00ffff" stroke-width="1.3"/>
<rect x="1439.7" y="202.8" width="4.9" height="7.2" fill="#00ffff"/>
<line x1="3" y1="176.3" x2="1467" y2="176.3" stroke="#ffff00" stroke-width="1.45"/>
<line x1="3" y1="224.3" x2="1467" y2="224.3" stroke="#ffff00" stroke-width="1.45"/>
<line x1="3" y1="266.5" x2="1467" y2="266.5" stroke="#ffff00" stroke-width="1.45"/>
<line x1="3" y1="300.7" x2="1467" y2="300.7" stroke="#ffff00" stroke-width="1.45"/>
<line x1="3" y1="368.1" x2="1467" y2="368.1" stroke="#ffff00" stroke-width="1.45"/>
<line x1="1218.4" y1="269.2" x2="1467" y2="269.2" stroke="#c0c0c0" stroke-width="1.4"/>
<line x1="14" y1="36.6" x2="1305.3" y2="518.6" stroke="#ffff00" stroke-width="1.3"/>
<line x1="564.7" y1="36.2" x2="1467" y2="372.9" stroke="#ffff00" stroke-width="1.3"/>
<line x1="1120.8" y1="36.7" x2="1467" y2="165.7" stroke="#ffff00" stroke-width="1.3"/>
<line x1="596.5" y1="518.6" x2="1467" y2="233.5" stroke="#ffff00" stroke-width="1.3"/>
<polyline fill="none" stroke="#ffff00" stroke-width="1.15" stroke-linejoin="round" points="6,404.2 13.2,405.4 20.4,407.1 27.7,409.1 34.9,411.3 42.1,413.3 49.3,415.6 56.5,418 63.7,420.6 71,422.9 78.2,425.7 85.4,428.4 92.6,430 99.8,431.1 107,432.2 114.3,433 121.5,434 128.7,434.4 135.9,435.3 143.1,435.4 150.3,435.5 157.6,435.7 164.8,435.2 172,434.4 179.2,434.4 186.4,434.2 193.6,433.8 200.9,433.3 208.1,432.8 215.3,432.5 222.5,432.4 229.7,432.3 236.9,431.4 244.2,429.8 251.4,427.9 258.6,425 265.8,422.2 273,420.3 280.2,417 287.5,413.7 294.7,410.5 301.9,407.6 309.1,403.7 316.3,396.5 323.5,390 330.8,383.5 338,377.5 345.2,370.7 352.4,363.4 359.6,355.7 366.8,347.4 374.1,339.2 381.3,334.4 388.5,328.5 395.7,322.1 402.9,316.6 410.2,312.1 417.4,307.2 424.6,300.9 431.8,294.9 439,289.2 446.2,283.5 453.5,277.9 460.7,273.9 467.9,271 475.1,267.7 482.3,265.1 489.5,260.5 496.8,254.5 504,248.4 511.2,241.8 518.4,234.8 525.6,228 532.8,221.7 540.1,215.6 547.3,210.8 554.5,206.2 561.7,202.1 568.9,196.5 576.1,190.8 583.4,185.6 590.6,180.3 597.8,176.3 605,172.9 612.2,169.5 619.4,168 626.7,167.3 633.9,167.2 641.1,166.7 648.3,170 655.5,172.8 662.7,176.1 670,180.2 677.2,182.3 684.4,185.1 691.6,188.1 698.8,189.9 706,191.2 713.3,194.1 720.5,197.1 727.7,199.2 734.9,201.5 742.1,204.6 749.4,207.6 756.6,209.6 763.8,211.2 771,212.5 778.2,214.1 785.4,215.7 792.7,217.5 799.9,219.7 807.1,221.9 814.3,224.7 821.5,226.9 828.7,227.5 836,228.3 843.2,229.1 850.4,230.4 857.6,231.6 864.8,232.8 872,233.2 879.3,232.1 886.5,230.8 893.7,229.4 900.9,228.6 908.1,227.9 915.3,226.9 922.6,226.2 929.8,224.2 937,222.3 944.2,221.1 951.4,220.1 958.6,219 965.9,219.7 973.1,220.5 980.3,221.5 987.5,222.4 994.7,223 1001.9,223.3 1009.2,223.8 1016.4,224.3 1023.6,225.5 1030.8,226.1 1038,227.4 1045.2,228.5 1052.5,229 1059.7,229.2 1066.9,229.2 1074.1,229.3 1081.3,229.1 1088.5,229.3 1095.8,230.1 1103,231.8 1110.2,234.3 1117.4,237.8 1124.6,241.3 1131.9,244 1139.1,247.2 1146.3,249.3 1153.5,251.8 1160.7,253.9 1167.9,255.7 1175.2,257.3 1182.4,257.7 1189.6,257.9 1196.8,258.2 1204,258.4 1211.2,258.3 1218.5,259.1 1225.7,258.8 1232.9,258.8 1240.1,258.9 1247.3,258.9 1254.5,258.2 1261.8,257.4 1269,256 1276.2,254.1 1283.4,252 1290.6,249.4 1297.8,246.9 1305.1,244.8 1312.3,242.4 1319.5,240 1326.7,238.9 1333.9,237.5 1341.1,236.1 1348.4,234.5 1355.6,233.6 1362.8,232.6 1370,232.3 1377.2,232.5 1384.4,232.6 1391.7,233.3 1398.9,233.9 1406.1,234.1 1413.3,233.9 1420.5,233.1 1427.7,231.6 1435,230.5 1442.2,229.7"/>
<polyline fill="none" stroke="#f4f4f4" stroke-width="1.1" stroke-linejoin="round" points="6,415.7 13.2,418.5 20.4,423.2 27.7,428.3 34.9,434.3 42.1,438.4 49.3,443.5 56.5,448.7 63.7,454.2 71,458 78.2,463.6 85.4,468.5 92.6,468.4 99.8,466.8 107,465.9 114.3,463.8 121.5,462.7 128.7,460.2 135.9,459.7 143.1,456.2 150.3,453.3 157.6,451.6 164.8,447.2 172,442.2 179.2,440.7 186.4,439.1 193.6,437 200.9,434.3 208.1,432.4 215.3,431 222.5,431 229.7,430.7 236.9,427.6 244.2,421.9 251.4,415.6 258.6,405.9 265.8,397.9 273,394.4 280.2,385.2 287.5,377.5 294.7,370.4 301.9,365 309.1,356.2 316.3,335.4 323.5,319.3 330.8,304.7 338,293.4 345.2,279.5 352.4,264.8 359.6,250 366.8,233.5 374.1,219.1 381.3,218.6 388.5,213.1 395.7,205.8 402.9,202.2 410.2,202.3 417.4,200.1 424.6,191.6 431.8,185 439,179.4 446.2,173.9 453.5,168.9 460.7,169.9 467.9,174.7 475.1,176.5 482.3,180.3 489.5,175.5 496.8,164.7 504,154.8 511.2,143.2 518.4,130.7 525.6,120.3 532.8,112.3 540.1,105.1 547.3,103.3 554.5,101.8 561.7,101.6 568.9,95 576.1,88.2 583.4,83.9 590.6,78.6 597.8,78.7 605,80.1 612.2,81.2 619.4,88.8 626.7,98.4 633.9,108.4 641.1,115.7 648.3,136.4 655.5,152.4 662.7,168.7 670,186.1 677.2,193.3 684.4,202.3 691.6,211.7 698.8,214.9 706,216.5 713.3,223.9 720.5,231 727.7,234 734.9,237.8 742.1,244.4 749.4,250 756.6,251.3 763.8,250.9 771,250.3 778.2,250.5 785.4,251.3 792.7,252.6 799.9,256 807.1,259.1 814.3,264.5 821.5,267 828.7,262.9 836,260.8 843.2,258.8 850.4,259.5 857.6,259.8 864.8,259.9 872,257.5 879.3,249.5 886.5,241.7 893.7,234.4 900.9,230.4 908.1,227.6 915.3,223.6 922.6,221.6 929.8,214.3 937,208.4 944.2,205.8 951.4,204.3 958.6,202.5 965.9,207.6 973.1,212.6 980.3,217.8 987.5,222 994.7,224.3 1001.9,225.4 1009.2,226.8 1016.4,228.5 1023.6,232.4 1030.8,233.6 1038,237.9 1045.2,240.3 1052.5,240.4 1059.7,239.5 1066.9,238 1074.1,237 1081.3,235 1088.5,235.1 1095.8,237.3 1103,242.6 1110.2,251 1117.4,261.9 1124.6,271.9 1131.9,278.1 1139.1,285.2 1146.3,287.8 1153.5,291.6 1160.7,293.5 1167.9,294.8 1175.2,295 1182.4,290.5 1189.6,286.5 1196.8,283.4 1204,280.3 1211.2,276.4 1218.5,276.5 1225.7,273 1232.9,270.7 1240.1,269.1 1247.3,267.8 1254.5,263.6 1261.8,259.6 1269,253.9 1276.2,246.7 1283.4,239.5 1290.6,231.2 1297.8,224.4 1305.1,219.6 1312.3,213.9 1319.5,208.9 1326.7,209.3 1333.9,208.6 1341.1,207.3 1348.4,205.4 1355.6,206.3 1362.8,206.8 1370,209.4 1377.2,213.9 1384.4,217.2 1391.7,222.3 1398.9,226.1 1406.1,228.3 1413.3,228.5 1420.5,226.1 1427.7,221.4 1435,218.7 1442.2,217.3"/>
<path d="M63.5 488 L71.5 496.5 L66.7 496.5 L66.7 504 L60.3 504 L60.3 496.5 L55.5 496.5 Z" fill="#ff0000"/>
<path d="M86 503 L94 511.5 L89.2 511.5 L89.2 519 L82.8 519 L82.8 511.5 L78 511.5 Z" fill="#ff0000"/>
<path d="M273 406.5 L281 415 L276.2 415 L276.2 422.5 L269.8 422.5 L269.8 415 L265 415 Z" fill="#ff0000"/>
<path d="M619.7 163.5 L627.7 172 L622.9 172 L622.9 179.5 L616.5 179.5 L616.5 172 L611.7 172 Z" fill="#ff0000"/>
<path d="M677 291 L685 299.5 L680.2 299.5 L680.2 307 L673.8 307 L673.8 299.5 L669 299.5 Z" fill="#ff0000"/>
<path d="M756.3 294 L764.3 302.5 L759.5 302.5 L759.5 310 L753.1 310 L753.1 302.5 L748.3 302.5 Z" fill="#ff0000"/>
<path d="M829.8 282.5 L837.8 291 L833 291 L833 298.5 L826.6 298.5 L826.6 291 L821.8 291 Z" fill="#ff0000"/>
<path d="M994.3 253.5 L1002.3 262 L997.5 262 L997.5 269.5 L991.1 269.5 L991.1 262 L986.3 262 Z" fill="#ff0000"/>
<path d="M1053.5 252.5 L1061.5 261 L1056.7 261 L1056.7 268.5 L1050.3 268.5 L1050.3 261 L1045.5 261 Z" fill="#ff0000"/>
<path d="M1140.4 328.5 L1148.4 337 L1143.6 337 L1143.6 344.5 L1137.2 344.5 L1137.2 337 L1132.4 337 Z" fill="#ff0000"/>
<path d="M1356.4 259.4 L1364.4 267.9 L1359.6 267.9 L1359.6 275.4 L1353.2 275.4 L1353.2 267.9 L1348.4 267.9 Z" fill="#ff0000"/>
<path d="M1413.3 248 L1421.3 256.5 L1416.5 256.5 L1416.5 264 L1410.1 264 L1410.1 256.5 L1405.3 256.5 Z" fill="#ff0000"/>
<path d="M122 443.7 L128.6 436.5 L124.6 436.5 L124.6 429.1 L119.4 429.1 L119.4 436.5 L115.4 436.5 Z" fill="none" stroke="#00f000" stroke-width="1.3" stroke-linejoin="miter"/>
<path d="M137 440.2 L143.6 433 L139.6 433 L139.6 425.6 L134.4 425.6 L134.4 433 L130.4 433 Z" fill="none" stroke="#00f000" stroke-width="1.3" stroke-linejoin="miter"/>
<path d="M157.6 425.4 L164.2 418.2 L160.2 418.2 L160.2 410.8 L155 410.8 L155 418.2 L151 418.2 Z" fill="none" stroke="#00f000" stroke-width="1.3" stroke-linejoin="miter"/>
<path d="M179 409.9 L185.6 402.7 L181.6 402.7 L181.6 395.3 L176.4 395.3 L176.4 402.7 L172.4 402.7 Z" fill="none" stroke="#00f000" stroke-width="1.3" stroke-linejoin="miter"/>
<path d="M215 415.4 L221.6 408.2 L217.6 408.2 L217.6 400.8 L212.4 400.8 L212.4 408.2 L208.4 408.2 Z" fill="none" stroke="#00f000" stroke-width="1.3" stroke-linejoin="miter"/>
<path d="M381.6 153.4 L388.2 146.2 L384.2 146.2 L384.2 138.8 L379 138.8 L379 146.2 L375 146.2 Z" fill="none" stroke="#00f000" stroke-width="1.3" stroke-linejoin="miter"/>
<path d="M439.6 138.7 L446.2 131.5 L442.2 131.5 L442.2 124.1 L437 124.1 L437 131.5 L433 131.5 Z" fill="none" stroke="#00f000" stroke-width="1.3" stroke-linejoin="miter"/>
<path d="M453.6 136 L460.2 128.8 L456.2 128.8 L456.2 121.4 L451 121.4 L451 128.8 L447 128.8 Z" fill="none" stroke="#00f000" stroke-width="1.3" stroke-linejoin="miter"/>
<path d="M902 193.1 L908.6 185.9 L904.6 185.9 L904.6 178.5 L899.4 178.5 L899.4 185.9 L895.4 185.9 Z" fill="none" stroke="#00f000" stroke-width="1.3" stroke-linejoin="miter"/>
<path d="M945.6 177.4 L952.2 170.2 L948.2 170.2 L948.2 162.8 L943 162.8 L943 170.2 L939 170.2 Z" fill="none" stroke="#00f000" stroke-width="1.3" stroke-linejoin="miter"/>
<path d="M1089.5 226 L1096.1 218.8 L1092.1 218.8 L1092.1 211.4 L1086.9 211.4 L1086.9 218.8 L1082.9 218.8 Z" fill="none" stroke="#00f000" stroke-width="1.3" stroke-linejoin="miter"/>
<path d="M1218.3 265.1 L1224.9 257.9 L1220.9 257.9 L1220.9 250.5 L1215.7 250.5 L1215.7 257.9 L1211.7 257.9 Z" fill="none" stroke="#00f000" stroke-width="1.3" stroke-linejoin="miter"/>
<path d="M1233.3 247.1 L1239.9 239.9 L1235.9 239.9 L1235.9 232.5 L1230.7 232.5 L1230.7 239.9 L1226.7 239.9 Z" fill="none" stroke="#00f000" stroke-width="1.3" stroke-linejoin="miter"/>
<path d="M1313.1 175.4 L1319.7 168.2 L1315.7 168.2 L1315.7 160.8 L1310.5 160.8 L1310.5 168.2 L1306.5 168.2 Z" fill="none" stroke="#00f000" stroke-width="1.3" stroke-linejoin="miter"/>
<path d="M1436.2 191.7 L1442.8 184.5 L1438.8 184.5 L1438.8 177.1 L1433.6 177.1 L1433.6 184.5 L1429.6 184.5 Z" fill="none" stroke="#00f000" stroke-width="1.3" stroke-linejoin="miter"/>
<path d="M533.5 41 L548 41 M534 42 L540.7 49.4 L547.5 42" fill="none" stroke="#00ff00" stroke-width="1.5"/>
<path d="M1269.5 161.9 L1276.1 154.7 L1272.1 154.7 L1272.1 146.3 L1266.9 146.3 L1266.9 154.7 L1262.9 154.7 Z" fill="#00ff00" stroke="#00ff00" stroke-width="1.3"/>
<line x1="-10" y1="536.7" x2="1518" y2="536.7" stroke="#920000" stroke-width="1.6"/>
<line x1="-10" y1="712" x2="1518" y2="712" stroke="#920000" stroke-width="1.6"/>
<line x1="1468" y1="8.7" x2="1468" y2="897" stroke="#a00000" stroke-width="1.5"/>
<line x1="1468" y1="33.8" x2="1476" y2="33.8" stroke="#a00000" stroke-width="1.4"/>
<line x1="1468" y1="61.4" x2="1472" y2="61.4" stroke="#a00000" stroke-width="1.4"/>
<line x1="1468" y1="89.1" x2="1476" y2="89.1" stroke="#a00000" stroke-width="1.4"/>
<line x1="1468" y1="116.8" x2="1472" y2="116.8" stroke="#a00000" stroke-width="1.4"/>
<line x1="1468" y1="144.7" x2="1476" y2="144.7" stroke="#a00000" stroke-width="1.4"/>
<line x1="1468" y1="172.3" x2="1472" y2="172.3" stroke="#a00000" stroke-width="1.4"/>
<line x1="1468" y1="198.6" x2="1476" y2="198.6" stroke="#a00000" stroke-width="1.4"/>
<line x1="1468" y1="226.2" x2="1472" y2="226.2" stroke="#a00000" stroke-width="1.4"/>
<line x1="1468" y1="254.4" x2="1476" y2="254.4" stroke="#a00000" stroke-width="1.4"/>
<line x1="1468" y1="282.1" x2="1472" y2="282.1" stroke="#a00000" stroke-width="1.4"/>
<line x1="1468" y1="309.6" x2="1476" y2="309.6" stroke="#a00000" stroke-width="1.4"/>
<line x1="1468" y1="337.2" x2="1472" y2="337.2" stroke="#a00000" stroke-width="1.4"/>
<line x1="1468" y1="365.3" x2="1476" y2="365.3" stroke="#a00000" stroke-width="1.4"/>
<line x1="1468" y1="392.9" x2="1472" y2="392.9" stroke="#a00000" stroke-width="1.4"/>
<line x1="1468" y1="420.7" x2="1476" y2="420.7" stroke="#a00000" stroke-width="1.4"/>
<line x1="1468" y1="448.3" x2="1472" y2="448.3" stroke="#a00000" stroke-width="1.4"/>
<line x1="1468" y1="476.3" x2="1476" y2="476.3" stroke="#a00000" stroke-width="1.4"/>
<line x1="1468" y1="563.5" x2="1476" y2="563.5" stroke="#a00000" stroke-width="1.4"/>
<line x1="1468" y1="611.6" x2="1476" y2="611.6" stroke="#a00000" stroke-width="1.4"/>
<line x1="1468" y1="661" x2="1476" y2="661" stroke="#a00000" stroke-width="1.4"/>
<line x1="1468" y1="587.5" x2="1472" y2="587.5" stroke="#a00000" stroke-width="1.4"/>
<line x1="1468" y1="636.3" x2="1472" y2="636.3" stroke="#a00000" stroke-width="1.4"/>
<line x1="1468" y1="689.7" x2="1518" y2="689.7" stroke="#a00000" stroke-width="1.5"/>
<rect x="1471.4" y="714.2" width="60" height="171.4" fill="none" stroke="#a00000" stroke-width="1.3"/>
<rect x="4.2" y="680.5" width="3.5" height="29.3" fill="#000" stroke="#ff4040" stroke-width="1.25"/>
<rect x="10.6" y="679.5" width="5.2" height="30.3" fill="#00ffff"/>
<rect x="17.8" y="683.1" width="5.2" height="26.7" fill="#00ffff"/>
<rect x="25.1" y="681.1" width="5.2" height="28.7" fill="#00ffff"/>
<rect x="32.3" y="681.5" width="5.2" height="28.3" fill="#00ffff"/>
<rect x="40.3" y="685.1" width="3.5" height="24.7" fill="#000" stroke="#ff4040" stroke-width="1.25"/>
<rect x="47.6" y="675" width="3.5" height="34.8" fill="#000" stroke="#ff4040" stroke-width="1.25"/>
<rect x="53.9" y="681.1" width="5.2" height="28.7" fill="#00ffff"/>
<rect x="61.1" y="675.4" width="5.2" height="34.4" fill="#00ffff"/>
<rect x="69.2" y="681.7" width="3.5" height="28.1" fill="#000" stroke="#ff4040" stroke-width="1.25"/>
<rect x="75.6" y="680.5" width="5.2" height="29.3" fill="#00ffff"/>
<rect x="83.6" y="680.5" width="3.5" height="29.3" fill="#000" stroke="#ff4040" stroke-width="1.25"/>
<rect x="90.9" y="669" width="3.5" height="40.8" fill="#000" stroke="#ff4040" stroke-width="1.25"/>
<rect x="98.1" y="666" width="3.5" height="43.8" fill="#000" stroke="#ff4040" stroke-width="1.25"/>
<rect x="104.4" y="669.4" width="5.2" height="40.4" fill="#00ffff"/>
<rect x="112.5" y="663" width="3.5" height="46.8" fill="#000" stroke="#ff4040" stroke-width="1.25"/>
<rect x="118.9" y="669.4" width="5.2" height="40.4" fill="#00ffff"/>
<rect x="126.9" y="674" width="3.5" height="35.8" fill="#000" stroke="#ff4040" stroke-width="1.25"/>
<rect x="133.3" y="673.4" width="5.2" height="36.4" fill="#00ffff"/>
<rect x="141.4" y="672" width="3.5" height="37.8" fill="#000" stroke="#ff4040" stroke-width="1.25"/>
<rect x="148.6" y="673.6" width="3.5" height="36.2" fill="#000" stroke="#ff4040" stroke-width="1.25"/>
<rect x="155" y="672.4" width="5.2" height="37.4" fill="#00ffff"/>
<rect x="163" y="663" width="3.5" height="46.8" fill="#000" stroke="#ff4040" stroke-width="1.25"/>
<rect x="170.2" y="671" width="3.5" height="38.8" fill="#000" stroke="#ff4040" stroke-width="1.25"/>
<rect x="176.6" y="670.4" width="5.2" height="39.4" fill="#00ffff"/>
<rect x="184.7" y="678" width="3.5" height="31.8" fill="#000" stroke="#ff4040" stroke-width="1.25"/>
<rect x="191.9" y="673" width="3.5" height="36.8" fill="#000" stroke="#ff4040" stroke-width="1.25"/>
<rect x="199.1" y="670.4" width="3.5" height="39.4" fill="#000" stroke="#ff4040" stroke-width="1.25"/>
<rect x="205.5" y="673.4" width="5.2" height="36.4" fill="#00ffff"/>
<rect x="213.5" y="674" width="3.5" height="35.8" fill="#000" stroke="#ff4040" stroke-width="1.25"/>
<rect x="219.9" y="678.5" width="5.2" height="31.3" fill="#00ffff"/>
<rect x="228" y="674" width="3.5" height="35.8" fill="#000" stroke="#ff4040" stroke-width="1.25"/>
<rect x="235.2" y="678" width="3.5" height="31.8" fill="#000" stroke="#ff4040" stroke-width="1.25"/>
<rect x="242.4" y="672.4" width="3.5" height="37.4" fill="#000" stroke="#ff4040" stroke-width="1.25"/>
<rect x="249.6" y="664.6" width="3.5" height="45.2" fill="#000" stroke="#ff4040" stroke-width="1.25"/>
<rect x="256.8" y="649.7" width="3.5" height="60.1" fill="#000" stroke="#ff4040" stroke-width="1.25"/>
<rect x="264.1" y="661.6" width="3.5" height="48.2" fill="#000" stroke="#ff4040" stroke-width="1.25"/>
<rect x="270.4" y="661.3" width="5.2" height="48.5" fill="#00ffff"/>
<rect x="278.5" y="646.2" width="3.5" height="63.6" fill="#000" stroke="#ff4040" stroke-width="1.25"/>
<rect x="284.9" y="638.3" width="5.2" height="71.5" fill="#00ffff"/>
<rect x="292.9" y="650.6" width="3.5" height="59.2" fill="#000" stroke="#ff4040" stroke-width="1.25"/>
<rect x="299.3" y="635.1" width="5.2" height="74.7" fill="#00ffff"/>
<rect x="307.4" y="636.1" width="3.5" height="73.7" fill="#000" stroke="#ff4040" stroke-width="1.25"/>
<rect x="314.6" y="580.2" width="3.5" height="129.6" fill="#000" stroke="#ff4040" stroke-width="1.25"/>
<rect x="320.9" y="570.5" width="5.2" height="139.3" fill="#00ffff"/>
<rect x="329" y="593.8" width="3.5" height="116" fill="#000" stroke="#ff4040" stroke-width="1.25"/>
<rect x="335.4" y="623.8" width="5.2" height="86" fill="#00ffff"/>
<rect x="343.4" y="625.3" width="3.5" height="84.5" fill="#000" stroke="#ff4040" stroke-width="1.25"/>
<rect x="350.7" y="580.2" width="3.5" height="129.6" fill="#000" stroke="#ff4040" stroke-width="1.25"/>
<rect x="357.9" y="609.5" width="3.5" height="100.3" fill="#000" stroke="#ff4040" stroke-width="1.25"/>
<rect x="365.1" y="574.2" width="3.5" height="135.6" fill="#000" stroke="#ff4040" stroke-width="1.25"/>
<rect x="372.3" y="566.7" width="3.5" height="143.1" fill="#000" stroke="#ff4040" stroke-width="1.25"/>
<rect x="378.7" y="567.3" width="5.2" height="142.5" fill="#00ffff"/>
<rect x="386.8" y="606" width="3.5" height="103.8" fill="#000" stroke="#ff4040" stroke-width="1.25"/>
<rect x="394" y="584.7" width="3.5" height="125.1" fill="#000" stroke="#ff4040" stroke-width="1.25"/>
<rect x="400.3" y="597.6" width="5.2" height="112.2" fill="#00ffff"/>
<rect x="407.6" y="616.8" width="5.2" height="93" fill="#00ffff"/>
<rect x="415.6" y="627" width="3.5" height="82.8" fill="#000" stroke="#ff4040" stroke-width="1.25"/>
<rect x="422.8" y="611.6" width="3.5" height="98.2" fill="#000" stroke="#ff4040" stroke-width="1.25"/>
<rect x="429.2" y="622.9" width="5.2" height="86.9" fill="#00ffff"/>
<rect x="437.3" y="621.8" width="3.5" height="88" fill="#000" stroke="#ff4040" stroke-width="1.25"/>
<rect x="444.5" y="609.2" width="3.5" height="100.6" fill="#000" stroke="#ff4040" stroke-width="1.25"/>
<rect x="451.7" y="620.9" width="3.5" height="88.9" fill="#000" stroke="#ff4040" stroke-width="1.25"/>
<rect x="458.1" y="615.6" width="5.2" height="94.2" fill="#00ffff"/>
<rect x="465.3" y="622.9" width="5.2" height="86.9" fill="#00ffff"/>
<rect x="473.4" y="638.9" width="3.5" height="70.9" fill="#000" stroke="#ff4040" stroke-width="1.25"/>
<rect x="479.7" y="638.3" width="5.2" height="71.5" fill="#00ffff"/>
<rect x="487.8" y="617.9" width="3.5" height="91.9" fill="#000" stroke="#ff4040" stroke-width="1.25"/>
<rect x="495" y="595.5" width="3.5" height="114.3" fill="#000" stroke="#ff4040" stroke-width="1.25"/>
<rect x="501.4" y="598.8" width="5.2" height="111" fill="#00ffff"/>
<rect x="509.4" y="604.3" width="3.5" height="105.5" fill="#000" stroke="#ff4040" stroke-width="1.25"/>
<rect x="516.7" y="595.2" width="3.5" height="114.6" fill="#000" stroke="#ff4040" stroke-width="1.25"/>
<rect x="523" y="585.3" width="5.2" height="124.5" fill="#00ffff"/>
<rect x="530.2" y="619.8" width="5.2" height="90" fill="#00ffff"/>
<rect x="538.3" y="616.2" width="3.5" height="93.6" fill="#000" stroke="#ff4040" stroke-width="1.25"/>
<rect x="544.7" y="622.9" width="5.2" height="86.9" fill="#00ffff"/>
<rect x="552.7" y="638.9" width="3.5" height="70.9" fill="#000" stroke="#ff4040" stroke-width="1.25"/>
<rect x="559.1" y="622.9" width="5.2" height="86.9" fill="#00ffff"/>
<rect x="567.2" y="622.1" width="3.5" height="87.7" fill="#000" stroke="#ff4040" stroke-width="1.25"/>
<rect x="574.4" y="622.1" width="3.5" height="87.7" fill="#000" stroke="#ff4040" stroke-width="1.25"/>
<rect x="580.8" y="628.7" width="5.2" height="81.1" fill="#00ffff"/>
<rect x="588.8" y="632.6" width="3.5" height="77.2" fill="#000" stroke="#ff4040" stroke-width="1.25"/>
<rect x="595.2" y="622.9" width="5.2" height="86.9" fill="#00ffff"/>
<rect x="602.4" y="628.7" width="5.2" height="81.1" fill="#00ffff"/>
<rect x="609.6" y="640.7" width="5.2" height="69.1" fill="#00ffff"/>
<rect x="616.8" y="630.8" width="5.2" height="79" fill="#00ffff"/>
<rect x="624.1" y="639.5" width="5.2" height="70.3" fill="#00ffff"/>
<rect x="631.3" y="637.8" width="5.2" height="72" fill="#00ffff"/>
<rect x="639.3" y="655" width="3.5" height="54.8" fill="#000" stroke="#ff4040" stroke-width="1.25"/>
<rect x="645.7" y="628.7" width="5.2" height="81.1" fill="#00ffff"/>
<rect x="653.8" y="647.6" width="3.5" height="62.2" fill="#000" stroke="#ff4040" stroke-width="1.25"/>
<rect x="661" y="652" width="3.5" height="57.8" fill="#000" stroke="#ff4040" stroke-width="1.25"/>
<rect x="667.4" y="660.5" width="5.2" height="49.3" fill="#00ffff"/>
<rect x="675.4" y="640.1" width="3.5" height="69.7" fill="#000" stroke="#ff4040" stroke-width="1.25"/>
<rect x="681.8" y="657.5" width="5.2" height="52.3" fill="#00ffff"/>
<rect x="689.9" y="658.5" width="3.5" height="51.3" fill="#000" stroke="#ff4040" stroke-width="1.25"/>
<rect x="697.1" y="655" width="3.5" height="54.8" fill="#000" stroke="#ff4040" stroke-width="1.25"/>
<rect x="704.3" y="649.4" width="3.5" height="60.4" fill="#000" stroke="#ff4040" stroke-width="1.25"/>
<rect x="710.7" y="643.9" width="5.2" height="65.9" fill="#00ffff"/>
<rect x="717.9" y="657.5" width="5.2" height="52.3" fill="#00ffff"/>
<rect x="725.9" y="658.1" width="3.5" height="51.7" fill="#000" stroke="#ff4040" stroke-width="1.25"/>
<rect x="732.3" y="660.5" width="5.2" height="49.3" fill="#00ffff"/>
<rect x="739.5" y="660.5" width="5.2" height="49.3" fill="#00ffff"/>
<rect x="747.6" y="668.9" width="3.5" height="40.9" fill="#000" stroke="#ff4040" stroke-width="1.25"/>
<rect x="754.8" y="661.9" width="3.5" height="47.9" fill="#000" stroke="#ff4040" stroke-width="1.25"/>
<rect x="762" y="655.3" width="3.5" height="54.5" fill="#000" stroke="#ff4040" stroke-width="1.25"/>
<rect x="769.3" y="661.6" width="3.5" height="48.2" fill="#000" stroke="#ff4040" stroke-width="1.25"/>
<rect x="776.5" y="660.2" width="3.5" height="49.6" fill="#000" stroke="#ff4040" stroke-width="1.25"/>
<rect x="782.8" y="660.5" width="5.2" height="49.3" fill="#00ffff"/>
<rect x="790.1" y="656.1" width="5.2" height="53.7" fill="#00ffff"/>
<rect x="797.3" y="660.5" width="5.2" height="49.3" fill="#00ffff"/>
<rect x="804.5" y="664.8" width="5.2" height="45" fill="#00ffff"/>
<rect x="811.7" y="664.8" width="5.2" height="45" fill="#00ffff"/>
<rect x="819.8" y="668.6" width="3.5" height="41.2" fill="#000" stroke="#ff4040" stroke-width="1.25"/>
<rect x="827" y="646.2" width="3.5" height="63.6" fill="#000" stroke="#ff4040" stroke-width="1.25"/>
<rect x="833.4" y="650" width="5.2" height="59.8" fill="#00ffff"/>
<rect x="841.4" y="656.7" width="3.5" height="53.1" fill="#000" stroke="#ff4040" stroke-width="1.25"/>
<rect x="847.8" y="655.2" width="5.2" height="54.6" fill="#00ffff"/>
<rect x="855.9" y="671.6" width="3.5" height="38.2" fill="#000" stroke="#ff4040" stroke-width="1.25"/>
<rect x="862.2" y="672.7" width="5.2" height="37.1" fill="#00ffff"/>
<rect x="869.4" y="653" width="5.2" height="56.8" fill="#00ffff"/>
<rect x="877.5" y="638.9" width="3.5" height="70.9" fill="#000" stroke="#ff4040" stroke-width="1.25"/>
<rect x="884.7" y="638.9" width="3.5" height="70.9" fill="#000" stroke="#ff4040" stroke-width="1.25"/>
<rect x="891.9" y="658.1" width="3.5" height="51.7" fill="#000" stroke="#ff4040" stroke-width="1.25"/>
<rect x="898.3" y="648.2" width="5.2" height="61.6" fill="#00ffff"/>
<rect x="906.4" y="667.2" width="3.5" height="42.6" fill="#000" stroke="#ff4040" stroke-width="1.25"/>
<rect x="913.6" y="661.1" width="3.5" height="48.7" fill="#000" stroke="#ff4040" stroke-width="1.25"/>
<rect x="920" y="664.8" width="5.2" height="45" fill="#00ffff"/>
<rect x="928" y="647.6" width="3.5" height="62.2" fill="#000" stroke="#ff4040" stroke-width="1.25"/>
<rect x="935.2" y="656.7" width="3.5" height="53.1" fill="#000" stroke="#ff4040" stroke-width="1.25"/>
<rect x="941.6" y="657.9" width="5.2" height="51.9" fill="#00ffff"/>
<rect x="948.8" y="660.5" width="5.2" height="49.3" fill="#00ffff"/>
<rect x="956.9" y="671.6" width="3.5" height="38.2" fill="#000" stroke="#ff4040" stroke-width="1.25"/>
<rect x="963.3" y="657.9" width="5.2" height="51.9" fill="#00ffff"/>
<rect x="970.5" y="672.7" width="5.2" height="37.1" fill="#00ffff"/>
<rect x="977.7" y="675.3" width="5.2" height="34.5" fill="#00ffff"/>
<rect x="984.9" y="673.9" width="5.2" height="35.9" fill="#00ffff"/>
<rect x="993" y="675.9" width="3.5" height="33.9" fill="#000" stroke="#ff4040" stroke-width="1.25"/>
<rect x="1000.2" y="668.6" width="3.5" height="41.2" fill="#000" stroke="#ff4040" stroke-width="1.25"/>
<rect x="1006.6" y="676.7" width="5.2" height="33.1" fill="#00ffff"/>
<rect x="1013.8" y="673.6" width="5.2" height="36.2" fill="#00ffff"/>
<rect x="1021" y="673.2" width="5.2" height="36.6" fill="#00ffff"/>
<rect x="1029.1" y="674.2" width="3.5" height="35.6" fill="#000" stroke="#ff4040" stroke-width="1.25"/>
<rect x="1035.4" y="664.8" width="5.2" height="45" fill="#00ffff"/>
<rect x="1043.5" y="677.7" width="3.5" height="32.1" fill="#000" stroke="#ff4040" stroke-width="1.25"/>
<rect x="1050.7" y="673.8" width="3.5" height="36" fill="#000" stroke="#ff4040" stroke-width="1.25"/>
<rect x="1057.9" y="673.8" width="3.5" height="36" fill="#000" stroke="#ff4040" stroke-width="1.25"/>
<rect x="1065.1" y="674.2" width="3.5" height="35.6" fill="#000" stroke="#ff4040" stroke-width="1.25"/>
<rect x="1071.5" y="676.7" width="5.2" height="33.1" fill="#00ffff"/>
<rect x="1079.6" y="675.9" width="3.5" height="33.9" fill="#000" stroke="#ff4040" stroke-width="1.25"/>
<rect x="1086" y="675.3" width="5.2" height="34.5" fill="#00ffff"/>
<rect x="1093.2" y="675.3" width="5.2" height="34.5" fill="#00ffff"/>
<rect x="1101.2" y="664.2" width="3.5" height="45.6" fill="#000" stroke="#ff4040" stroke-width="1.25"/>
<rect x="1107.6" y="668" width="5.2" height="41.8" fill="#00ffff"/>
<rect x="1115.7" y="652" width="3.5" height="57.8" fill="#000" stroke="#ff4040" stroke-width="1.25"/>
<rect x="1122" y="671" width="5.2" height="38.8" fill="#00ffff"/>
<rect x="1130.1" y="673.3" width="3.5" height="36.5" fill="#000" stroke="#ff4040" stroke-width="1.25"/>
<rect x="1136.5" y="672.4" width="5.2" height="37.4" fill="#00ffff"/>
<rect x="1144.5" y="677.7" width="3.5" height="32.1" fill="#000" stroke="#ff4040" stroke-width="1.25"/>
<rect x="1150.9" y="676.7" width="5.2" height="33.1" fill="#00ffff"/>
<rect x="1158.1" y="675.3" width="5.2" height="34.5" fill="#00ffff"/>
<rect x="1166.2" y="671.6" width="3.5" height="38.2" fill="#000" stroke="#ff4040" stroke-width="1.25"/>
<rect x="1173.4" y="674.2" width="3.5" height="35.6" fill="#000" stroke="#ff4040" stroke-width="1.25"/>
<rect x="1180.6" y="656.7" width="3.5" height="53.1" fill="#000" stroke="#ff4040" stroke-width="1.25"/>
<rect x="1187.8" y="662.8" width="3.5" height="47" fill="#000" stroke="#ff4040" stroke-width="1.25"/>
<rect x="1195.1" y="670.3" width="3.5" height="39.5" fill="#000" stroke="#ff4040" stroke-width="1.25"/>
<rect x="1201.4" y="672.4" width="5.2" height="37.4" fill="#00ffff"/>
<rect x="1209.5" y="670.3" width="3.5" height="39.5" fill="#000" stroke="#ff4040" stroke-width="1.25"/>
<rect x="1216.7" y="667.2" width="3.5" height="42.6" fill="#000" stroke="#ff4040" stroke-width="1.25"/>
<rect x="1223.9" y="658.1" width="3.5" height="51.7" fill="#000" stroke="#ff4040" stroke-width="1.25"/>
<rect x="1230.3" y="663.4" width="5.2" height="46.4" fill="#00ffff"/>
<rect x="1237.5" y="664.8" width="5.2" height="45" fill="#00ffff"/>
<rect x="1244.7" y="662.2" width="5.2" height="47.6" fill="#00ffff"/>
<rect x="1252.8" y="660.2" width="3.5" height="49.6" fill="#000" stroke="#ff4040" stroke-width="1.25"/>
<rect x="1260" y="663.7" width="3.5" height="46.1" fill="#000" stroke="#ff4040" stroke-width="1.25"/>
<rect x="1267.2" y="653.7" width="3.5" height="56.1" fill="#000" stroke="#ff4040" stroke-width="1.25"/>
<rect x="1274.4" y="634.3" width="3.5" height="75.5" fill="#000" stroke="#ff4040" stroke-width="1.25"/>
<rect x="1281.7" y="656.4" width="3.5" height="53.4" fill="#000" stroke="#ff4040" stroke-width="1.25"/>
<rect x="1288.9" y="649.4" width="3.5" height="60.4" fill="#000" stroke="#ff4040" stroke-width="1.25"/>
<rect x="1295.2" y="649.1" width="5.2" height="60.7" fill="#00ffff"/>
<rect x="1302.5" y="653.1" width="5.2" height="56.7" fill="#00ffff"/>
<rect x="1310.5" y="661.1" width="3.5" height="48.7" fill="#000" stroke="#ff4040" stroke-width="1.25"/>
<rect x="1316.9" y="654.4" width="5.2" height="55.4" fill="#00ffff"/>
<rect x="1324.1" y="655.2" width="5.2" height="54.6" fill="#00ffff"/>
<rect x="1332.2" y="668.9" width="3.5" height="40.9" fill="#000" stroke="#ff4040" stroke-width="1.25"/>
<rect x="1339.4" y="670.3" width="3.5" height="39.5" fill="#000" stroke="#ff4040" stroke-width="1.25"/>
<rect x="1346.6" y="664" width="3.5" height="45.8" fill="#000" stroke="#ff4040" stroke-width="1.25"/>
<rect x="1353" y="668" width="5.2" height="41.8" fill="#00ffff"/>
<rect x="1361" y="669.8" width="3.5" height="40" fill="#000" stroke="#ff4040" stroke-width="1.25"/>
<rect x="1367.4" y="668.7" width="5.2" height="41.1" fill="#00ffff"/>
<rect x="1374.6" y="662.2" width="5.2" height="47.6" fill="#00ffff"/>
<rect x="1382.7" y="676.3" width="3.5" height="33.5" fill="#000" stroke="#ff4040" stroke-width="1.25"/>
<rect x="1389.1" y="679.7" width="5.2" height="30.1" fill="#00ffff"/>
<rect x="1397.1" y="679.1" width="3.5" height="30.7" fill="#000" stroke="#ff4040" stroke-width="1.25"/>
<rect x="1404.3" y="677.7" width="3.5" height="32.1" fill="#000" stroke="#ff4040" stroke-width="1.25"/>
<rect x="1411.6" y="677.3" width="3.5" height="32.5" fill="#000" stroke="#ff4040" stroke-width="1.25"/>
<rect x="1418.8" y="670.3" width="3.5" height="39.5" fill="#000" stroke="#ff4040" stroke-width="1.25"/>
<rect x="1426" y="658.1" width="3.5" height="51.7" fill="#000" stroke="#ff4040" stroke-width="1.25"/>
<rect x="1432.4" y="671" width="5.2" height="38.8" fill="#00ffff"/>
<rect x="1439.6" y="672.7" width="5.2" height="37.1" fill="#00ffff"/>
<polyline fill="none" stroke="#ffff00" stroke-width="1.15" stroke-linejoin="round" points="6,680.9 13.2,680.6 20.4,680.9 27.7,680.7 34.9,680.8 42.1,681.3 49.3,680.6 56.5,680.6 63.7,680.1 71,680.1 78.2,680.2 85.4,680.2 92.6,678.8 99.8,677.2 107,676 114.3,673.8 121.5,673.3 128.7,672.5 135.9,672.3 143.1,671.4 150.3,670.6 157.6,669.9 164.8,669.3 172,669.8 179.2,669.9 186.4,671.4 193.6,671.7 200.9,671.3 208.1,671.3 215.3,671.5 222.5,672.1 229.7,672.2 236.9,673.7 244.2,673.8 251.4,673.2 258.6,670.3 265.8,669.2 273,668.3 280.2,665.6 287.5,662 294.7,659.2 301.9,655.4 309.1,651.2 316.3,642 323.5,632.6 330.8,627 338,623.3 345.2,619.6 352.4,613 359.6,610.1 366.8,602.4 374.1,595.5 381.3,588.7 388.5,591.3 395.7,592.7 402.9,593.1 410.2,592.4 417.4,592.6 424.6,595.7 431.8,597.1 439,601.9 446.2,606.1 453.5,611.4 460.7,612.4 467.9,616.3 475.1,620.4 482.3,622.5 489.5,621.6 496.8,620 504,617.6 511.2,615.9 518.4,614.5 525.6,611 532.8,611.4 540.1,610.7 547.3,609.1 554.5,609.1 561.7,609.7 568.9,612.3 576.1,614.6 583.4,617.1 590.6,620.8 597.8,624.6 605,625.5 612.2,628 619.4,628.8 626.7,628.9 633.9,630.4 641.1,633.7 648.3,634.4 655.5,636.2 662.7,638.2 670,641.9 677.2,643 684.4,644.7 691.6,647.4 698.8,648.9 706,650 713.3,648.9 720.5,651.8 727.7,652.9 734.9,653.8 742.1,653.8 749.4,656.7 756.6,657 763.8,656.7 771,657.4 778.2,658.5 785.4,660.1 792.7,660 799.9,660.3 807.1,660.7 814.3,661.2 821.5,661.1 828.7,659.6 836,659.1 843.2,658.6 850.4,658.2 857.6,659.2 864.8,660.9 872,660.1 879.3,657.5 886.5,654.8 893.7,653.8 900.9,654 908.1,655.7 915.3,656.1 922.6,657.1 929.8,654.7 937,653 944.2,653.5 951.4,655.7 958.6,659 965.9,659 973.1,661.5 980.3,662.4 987.5,663.7 994.7,664.8 1001.9,666.8 1009.2,668.9 1016.4,670.5 1023.6,671.8 1030.8,672 1038,672.7 1045.2,673.2 1052.5,672.9 1059.7,672.9 1066.9,672.7 1074.1,673.6 1081.3,673.4 1088.5,673.6 1095.8,673.8 1103,672.8 1110.2,673.1 1117.4,670.6 1124.6,670.3 1131.9,670.3 1139.1,670.2 1146.3,670.2 1153.5,670.3 1160.7,670.3 1167.9,669.9 1175.2,670.9 1182.4,669.7 1189.6,670.8 1196.8,670.7 1204,670.6 1211.2,670.4 1218.5,669.3 1225.7,667.4 1232.9,666.2 1240.1,665.6 1247.3,664.5 1254.5,664.8 1261.8,664.9 1269,663.3 1276.2,659.4 1283.4,658 1290.6,656.2 1297.8,655.4 1305.1,654.3 1312.3,653.9 1319.5,653.1 1326.7,652.7 1333.9,653.2 1341.1,654.9 1348.4,657.8 1355.6,659.1 1362.8,661.1 1370,663.1 1377.2,664 1384.4,665.5 1391.7,668 1398.9,670.3 1406.1,671.2 1413.3,671.9 1420.5,672.5 1427.7,671.5 1435,671.7 1442.2,672.1"/>
<polyline fill="none" stroke="#ffffff" stroke-width="1.15" stroke-linejoin="round" points="6,680.8 13.2,680.3 20.4,680.7 27.7,680.9 34.9,681 42.1,681.9 49.3,680.9 56.5,680.5 63.7,679.4 71,679.3 78.2,678.5 85.4,679.6 92.6,677 99.8,675 107,672.7 114.3,669.1 121.5,667 128.7,668 135.9,669.6 143.1,670 150.3,672.2 157.6,672.8 164.8,670.5 172,669.9 179.2,669.7 186.4,670.6 193.6,670.6 200.9,672.1 208.1,672.7 215.3,673.3 222.5,673.5 229.7,673.7 236.9,675.2 244.2,674.9 251.4,673 258.6,667.2 265.8,664.7 273,661.5 280.2,656.2 287.5,651.1 294.7,651.2 301.9,646.1 309.1,640.9 316.3,627.7 323.5,614.1 330.8,602.8 338,600.5 345.2,598.3 352.4,598.3 359.6,606 366.8,602.1 374.1,590.6 381.3,579.1 388.5,584.3 395.7,579.3 402.9,584.1 410.2,594.2 417.4,606.1 424.6,607.2 431.8,614.9 439,619.7 446.2,618 453.5,616.8 460.7,617.7 467.9,617.7 475.1,621.1 482.3,627.1 489.5,626.5 496.8,622.3 504,617.5 511.2,610.6 518.4,601.9 525.6,595.5 532.8,600.4 540.1,603.8 547.3,607.6 554.5,616.4 561.7,623.9 568.9,624.2 576.1,625.4 583.4,626.6 590.6,625.3 597.8,625.3 605,626.7 612.2,630.6 619.4,631 626.7,632.5 633.9,635.5 641.1,640.6 648.3,638.2 655.5,641.5 662.7,643.8 670,648.4 677.2,645.4 684.4,651.2 691.6,653.3 698.8,653.9 706,651.6 713.3,652.5 720.5,652.5 727.7,652.4 734.9,653.6 742.1,656 749.4,660.9 756.6,661.6 763.8,661.1 771,661.2 778.2,661 785.4,659.4 792.7,658.4 799.9,659.5 807.1,660.3 814.3,661.3 821.5,662.8 828.7,660.8 836,658.7 843.2,656.9 850.4,655 857.6,655.6 864.8,661 872,661.6 879.3,658 886.5,654.6 893.7,651.9 900.9,647.1 908.1,649.8 915.3,654.2 922.6,659.5 929.8,657.4 937,659 944.2,657.3 951.4,657.3 958.6,658.5 965.9,660.6 973.1,664 980.3,667.5 987.5,670.2 994.7,671 1001.9,673.1 1009.2,673.9 1016.4,673.5 1023.6,673.4 1030.8,673 1038,672.4 1045.2,672.5 1052.5,672.4 1059.7,672.4 1066.9,672.4 1074.1,674.8 1081.3,674.4 1088.5,674.8 1095.8,675.3 1103,673.3 1110.2,671.5 1117.4,666.7 1124.6,665.9 1131.9,665.3 1139.1,667.1 1146.3,668.9 1153.5,674 1160.7,674.8 1167.9,674.5 1175.2,674.7 1182.4,670.5 1189.6,667.6 1196.8,666.5 1204,666.8 1211.2,666 1218.5,668.1 1225.7,667.2 1232.9,665.9 1240.1,664.4 1247.3,662.9 1254.5,661.5 1261.8,662.6 1269,660.6 1276.2,654.4 1283.4,653.1 1290.6,650.9 1297.8,648.1 1305.1,648.1 1312.3,653.4 1319.5,653.2 1326.7,654.5 1333.9,658.3 1341.1,661.6 1348.4,662.2 1355.6,664.9 1362.8,667.7 1370,667.8 1377.2,666.3 1384.4,668.8 1391.7,671.1 1398.9,672.9 1406.1,674.6 1413.3,677.5 1420.5,676.3 1427.7,671.9 1435,670.4 1442.2,669.5"/>
<clipPath id="kc"><rect x="0" y="713" width="1467" height="190"/></clipPath><g clip-path="url(#kc)">
<polyline fill="none" stroke="#ffff00" stroke-width="1.15" stroke-linejoin="round" points="6,822 13.2,827.3 20.4,834 27.7,838.8 34.9,842.5 42.1,844.3 49.3,844.1 56.5,843.6 63.7,844.1 71,844.2 78.2,845.8 85.4,848 92.6,841.2 99.8,829.2 107,817 114.3,807.7 121.5,801.6 128.7,795.7 135.9,792.4 143.1,787.3 150.3,782.1 157.6,781.2 164.8,778.6 172,776 179.2,778.3 186.4,782.1 193.6,784.7 200.9,785.1 208.1,787.6 215.3,791.3 222.5,797.6 229.7,803.9 236.9,803.5 244.2,798.1 251.4,791.2 258.6,784.6 265.8,779.1 273,777.7 280.2,774.8 287.5,773.2 294.7,772.1 301.9,772.8 309.1,771.4 316.3,769.2 323.5,769 330.8,769.3 338,770.3 345.2,769.5 352.4,769.9 359.6,769.8 366.8,768.4 374.1,767.5 381.3,775.6 388.5,783.3 395.7,788 402.9,792.8 410.2,801.1 417.4,807.9 424.6,807.7 431.8,804.8 439,800.1 446.2,794.4 453.5,788.7 460.7,788.8 467.9,795.4 475.1,803.1 482.3,813 489.5,813.6 496.8,807.9 504,800.8 511.2,792.8 518.4,785.5 525.6,780.7 532.8,777.9 540.1,776.2 547.3,777.3 554.5,782.2 561.7,791.7 568.9,794.8 576.1,793.6 583.4,792.1 590.6,787.8 597.8,788.5 605,793 612.2,798.6 619.4,808.7 626.7,819.8 633.9,829.3 641.1,836.3 648.3,842.1 655.5,846.1 662.7,849.4 670,852.8 677.2,852.5 684.4,851.3 691.6,850.6 698.8,847.2 706,838.6 713.3,833.6 720.5,831.8 727.7,828.2 734.9,825.4 742.1,827.5 749.4,831.6 756.6,831.6 763.8,828.2 771,823.1 778.2,817.2 785.4,812.3 792.7,809.4 799.9,810.9 807.1,814.7 814.3,821.6 821.5,826.6 828.7,822 836,814.8 843.2,806.8 850.4,802.7 857.6,800.5 864.8,799.1 872,797.1 879.3,792.4 886.5,786.9 893.7,781.3 900.9,778.7 908.1,778.3 915.3,777.1 922.6,777.2 929.8,775.2 937,772.8 944.2,774.1 951.4,778.1 958.6,782 965.9,792 973.1,803.6 980.3,815.5 987.5,825.9 994.7,832.9 1001.9,835.5 1009.2,836.1 1016.4,835.9 1023.6,838 1030.8,835 1038,836 1045.2,836.3 1052.5,832.2 1059.7,824.6 1066.9,814.3 1074.1,805.1 1081.3,796.9 1088.5,793.2 1095.8,795.5 1103,802.9 1110.2,813.3 1117.4,821.7 1124.6,828.6 1131.9,832.8 1139.1,836.3 1146.3,836.7 1153.5,836.5 1160.7,832.9 1167.9,827.5 1175.2,819 1182.4,808.6 1189.6,799 1196.8,791.2 1204,784.5 1211.2,778.8 1218.5,777.6 1225.7,776 1232.9,776.1 1240.1,778 1247.3,781.9 1254.5,781 1261.8,778.1 1269,774.5 1276.2,773.1 1283.4,772.1 1290.6,770.1 1297.8,768.5 1305.1,768.2 1312.3,767 1319.5,766.3 1326.7,771.6 1333.9,781.2 1341.1,790.6 1348.4,796.9 1355.6,805.1 1362.8,812.6 1370,822.1 1377.2,831.4 1384.4,838 1391.7,844.3 1398.9,848.6 1406.1,849.6 1413.3,846.6 1420.5,838.6 1427.7,827.7 1435,818.1 1442.2,811.4"/>
<polyline fill="none" stroke="#ffffff" stroke-width="1.15" stroke-linejoin="round" points="6,829.7 13.2,837.9 20.4,847.4 27.7,848.3 34.9,850 42.1,847.8 49.3,843.6 56.5,842.7 63.7,845.2 71,844.2 78.2,849.1 85.4,852.5 92.6,827.7 99.8,805.2 107,792.6 114.3,789.1 121.5,789.2 128.7,783.9 135.9,785.7 143.1,777.3 150.3,771.7 157.6,779.4 164.8,773.3 172,770.8 179.2,783 186.4,789.6 193.6,790 200.9,785.8 208.1,792.6 215.3,798.7 222.5,810.1 229.7,816.7 236.9,802.5 244.2,787.5 251.4,777.5 258.6,771.3 265.8,768.2 273,774.8 280.2,769 287.5,769.9 294.7,769.8 301.9,774.3 309.1,768.7 316.3,764.9 323.5,768.6 330.8,769.7 338,772.3 345.2,767.8 352.4,770.7 359.6,769.7 366.8,765.6 374.1,765.6 381.3,791.8 388.5,798.6 395.7,797.6 402.9,802.4 410.2,817.5 417.4,821.7 424.6,807.3 431.8,799 439,790.5 446.2,783 453.5,777.3 460.7,789.2 467.9,808.5 475.1,818.5 482.3,832.8 489.5,814.8 496.8,796.6 504,786.6 511.2,776.9 518.4,770.8 525.6,771 532.8,772.4 540.1,772.8 547.3,779.6 554.5,792 561.7,810.6 568.9,801.1 576.1,791.2 583.4,789.1 590.6,779 597.8,790 605,802.1 612.2,809.6 619.4,829 626.7,842 633.9,848.2 641.1,850.4 648.3,853.7 655.5,854.2 662.7,856.1 670,859.4 677.2,851.9 684.4,849 691.6,849.1 698.8,840.4 706,821.3 713.3,823.7 720.5,828.3 727.7,820.8 734.9,819.8 742.1,831.8 749.4,839.8 756.6,831.6 763.8,821.3 771,813 778.2,805.3 785.4,802.5 792.7,803.6 799.9,814 807.1,822.1 814.3,835.5 821.5,836.5 828.7,812.9 836,800.4 843.2,790.8 850.4,794.6 857.6,796 864.8,796.2 872,793.1 879.3,783 886.5,775.9 893.7,770.2 900.9,773.4 908.1,777.4 915.3,774.7 922.6,777.4 929.8,771.2 937,768 944.2,776.7 951.4,786.2 958.6,789.7 965.9,811.9 973.1,827 980.3,839.3 987.5,846.6 994.7,847 1001.9,840.6 1009.2,837.4 1016.4,835.4 1023.6,842.3 1030.8,828.9 1038,838.1 1045.2,836.9 1052.5,824.1 1059.7,809.2 1066.9,793.7 1074.1,786.7 1081.3,780.5 1088.5,785.8 1095.8,800.1 1103,817.6 1110.2,834.3 1117.4,838.4 1124.6,842.5 1131.9,841 1139.1,843.4 1146.3,837.6 1153.5,836 1160.7,825.6 1167.9,816.9 1175.2,802.1 1182.4,787.7 1189.6,779.9 1196.8,775.6 1204,771.2 1211.2,767.4 1218.5,775 1225.7,772.9 1232.9,776.2 1240.1,781.8 1247.3,789.6 1254.5,779.2 1261.8,772.4 1269,767.4 1276.2,770.3 1283.4,770 1290.6,766.2 1297.8,765.2 1305.1,767.7 1312.3,764.7 1319.5,764.7 1326.7,782.2 1333.9,800.5 1341.1,809.2 1348.4,809.7 1355.6,821.4 1362.8,827.7 1370,841.1 1377.2,850 1384.4,851.2 1391.7,856.8 1398.9,857.3 1406.1,851.7 1413.3,840.6 1420.5,822.5 1427.7,805.9 1435,799 1442.2,797.8"/>
<polyline fill="none" stroke="#ff00ff" stroke-width="1.15" stroke-linejoin="round" points="6,845.2 13.2,859.2 20.4,874.2 27.7,867.3 34.9,865.1 42.1,854.9 49.3,842.7 56.5,840.8 63.7,847.4 71,844.4 78.2,855.7 85.4,861.4 92.6,800.5 99.8,757.1 107,743.8 114.3,751.9 121.5,764.5 128.7,760.4 135.9,772.5 143.1,757.3 150.3,750.9 157.6,775.8 164.8,762.7 172,760.4 179.2,792.5 186.4,804.7 193.6,800.6 200.9,787.2 208.1,802.6 215.3,813.4 222.5,835.3 229.7,842.1 236.9,800.7 244.2,766.2 251.4,749.9 258.6,744.7 265.8,746.4 273,769 280.2,757.4 287.5,763.5 294.7,765.4 301.9,777.2 309.1,763.1 316.3,756.2 323.5,767.7 330.8,770.7 338,776.5 345.2,764.4 352.4,772.3 359.6,769.5 366.8,760 374.1,761.9 381.3,824.2 388.5,829.3 395.7,816.8 402.9,821.6 410.2,850.5 417.4,849.1 424.6,806.5 431.8,787.3 439,771.5 446.2,760.3 453.5,754.5 460.7,789.9 467.9,834.8 475.1,849.2 482.3,872.4 489.5,817.2 496.8,774 504,758.1 511.2,744.9 518.4,741.5 525.6,751.7 532.8,761.3 540.1,765.9 547.3,784.2 554.5,811.5 561.7,848.4 568.9,813.8 576.1,786.3 583.4,783.1 590.6,761.6 597.8,793 605,820.2 612.2,831.8 619.4,869.6 626.7,886.3 633.9,886.1 641.1,878.6 648.3,876.8 655.5,870.2 662.7,869.4 670,872.7 677.2,850.8 684.4,844.3 691.6,846.2 698.8,826.9 706,786.7 713.3,803.8 720.5,821.2 727.7,806.1 734.9,808.7 742.1,840.3 749.4,856.1 756.6,831.5 763.8,807.6 771,792.8 778.2,781.5 785.4,782.9 792.7,792.1 799.9,820.1 807.1,837 814.3,863.3 821.5,856.4 828.7,794.6 836,771.7 843.2,758.7 850.4,778.3 857.6,787 864.8,790.5 872,785.2 879.3,764.2 886.5,753.8 893.7,747.9 900.9,763 908.1,775.7 915.3,770 922.6,777.8 929.8,763.2 937,758.3 944.2,781.9 951.4,802.4 958.6,805.2 965.9,851.8 973.1,873.6 980.3,886.8 987.5,888 994.7,875.1 1001.9,851 1009.2,840 1016.4,834.4 1023.6,851 1030.8,816.8 1038,842.3 1045.2,838 1052.5,807.8 1059.7,778.5 1066.9,752.5 1074.1,750 1081.3,747.8 1088.5,771 1095.8,809.3 1103,847 1110.2,876.3 1117.4,871.9 1124.6,870.2 1131.9,857.5 1139.1,857.6 1146.3,839.2 1153.5,835 1160.7,811.1 1167.9,795.5 1175.2,768.1 1182.4,745.8 1189.6,741.6 1196.8,744.3 1204,744.5 1211.2,744.6 1218.5,770 1225.7,766.8 1232.9,776.6 1240.1,789.3 1247.3,805.2 1254.5,775.7 1261.8,760.9 1269,753.1 1276.2,764.7 1283.4,765.9 1290.6,758.4 1297.8,758.6 1305.1,766.6 1312.3,759.9 1319.5,761.5 1326.7,803.5 1333.9,839 1341.1,846.6 1348.4,835.3 1355.6,854.1 1362.8,857.8 1370,879 1377.2,887.1 1384.4,877.7 1391.7,881.8 1398.9,874.6 1406.1,855.9 1413.3,828.7 1420.5,790.3 1427.7,762.2 1435,760.7 1442.2,770.8"/>
</g>
<rect x="-10" y="-10" width="1528" height="19.5" fill="url(#tg)"/>
<rect x="581" y="-10" width="57" height="15.2" fill="#e2e2e2"/><rect x="648.5" y="-10" width="57" height="15.2" fill="#e2e2e2"/>
<rect x="580.4" y="-10" width="1.2" height="15.4" fill="#f6f6f6"/>
<rect x="637.4" y="-10" width="1.2" height="15.4" fill="#f6f6f6"/>
<rect x="647.9" y="-10" width="1.2" height="15.4" fill="#f6f6f6"/>
<rect x="704.9" y="-10" width="1.2" height="15.4" fill="#f6f6f6"/>
<rect x="2" y="-10" width="25" height="11.6" fill="#e4e4e4"/>
<ellipse cx="1512" cy="0" rx="14" ry="3.6" fill="#e6e6e6" stroke="#9a9a9a" stroke-width="1"/>
<rect x="-10" y="-10" width="12.1" height="907" fill="#e4e4e4"/>
<path d="M2 446 L2 528.7 L14.5 512.7 L14.5 461.8 Z" fill="#383838" fill-opacity="0.93"/><path d="M2 446 L14.5 461.8 L14.5 512.7 L2 528.7" fill="none" stroke="#666666" stroke-width="1.6"/>
<path d="M3.6 479.2 L3.6 493 L11 486.1 Z" fill="#dc9200"/>
<path d="M1435 16 L1442.5 23.5 L1435 31 L1427.5 23.5 Z" fill="none" stroke="#800000" stroke-width="1.3"/>
<rect x="1450" y="16" width="14" height="15" fill="none" stroke="#800000" stroke-width="1.3"/><line x1="1459.5" y1="16" x2="1459.5" y2="31" stroke="#800000" stroke-width="1.3"/>
<g>
<text transform="translate(2.5,30.9) scale(1,1.1)" fill="#ececec" font-size="18" letter-spacing="-0.045" >上证指数(日线.前复权)</text>
<path d="M198.5 14.5 L206.5 23 L201.7 23 L201.7 30.5 L195.3 30.5 L195.3 23 L190.5 23 Z" fill="#ff0000"/>
<text transform="translate(210.1,28.7) scale(1,1.14)" fill="#e2e2e2" font-size="17.4" letter-spacing="0.078">EXPMA(12,50)</text>
<text transform="translate(334.1,28.7) scale(1,1.14)" fill="#e2e2e2" font-size="17.4" letter-spacing="-0.128">EXP1:</text>
<text transform="translate(389.8,28.7) scale(1,1.14)" fill="#e2e2e2" font-size="17.4" letter-spacing="0.622">2966.78</text>
<text transform="translate(463.7,28.7) scale(1,1.14)" fill="#ffff00" font-size="17.4" letter-spacing="0.222">EXP2:</text>
<text transform="translate(518.7,28.7) scale(1,1.14)" fill="#ffff00" font-size="17.4" letter-spacing="0.609">2944.52</text>
<path d="M525 40 L525 46 M525 40 L529 40 M525.5 41 L545 48" fill="none" stroke="#e0e0e0" stroke-width="1.2"/>
<path d="M92 510 L110 510 M92 510 L98 505.5 M92 510 L98 514.5" fill="none" stroke="#e8e8e8" stroke-width="1.3"/>
<text transform="translate(2.3,555.6) scale(1,1.14)" fill="#e2e2e2" font-size="17.4" letter-spacing="-0.025">VOLUME:</text>
<text transform="translate(84.6,555.6) scale(1,1.14)" fill="#e2e2e2" font-size="17.4" letter-spacing="0.711">149885504.00</text>
<text transform="translate(211.5,555.6) scale(1,1.14)" fill="#e2e2e2" font-size="17.4" letter-spacing="-0.598">MA5:</text>
<text transform="translate(254.6,555.6) scale(1,1.14)" fill="#e2e2e2" font-size="17.4" letter-spacing="0.802">161864144.00</text>
<text transform="translate(382.6,555.6) scale(1,1.14)" fill="#ffff00" font-size="17.4" letter-spacing="-0.868">MA10:</text>
<text transform="translate(436.4,555.6) scale(1,1.14)" fill="#ffff00" font-size="17.4" letter-spacing="0.729">150376576.00</text>
<text transform="translate(1.8,731.2) scale(1,1.14)" fill="#e2e2e2" font-size="17.4" letter-spacing="0.350">KDJ(9,3,3)</text>
<text transform="translate(95.4,731.2) scale(1,1.14)" fill="#e2e2e2" font-size="17.4" letter-spacing="2.476">K:</text>
<text transform="translate(117.7,731.2) scale(1,1.14)" fill="#e2e2e2" font-size="17.4" letter-spacing="0.451">63.36</text>
<text transform="translate(171,731.2) scale(1,1.14)" fill="#ffff00" font-size="17.4" letter-spacing="2.116">D:</text>
<text transform="translate(194.8,731.2) scale(1,1.14)" fill="#ffff00" font-size="17.4" letter-spacing="-0.149">51.71</text>
<text transform="translate(247.7,731.2) scale(1,1.14)" fill="#ff00ff" font-size="17.4" letter-spacing="1.626">J:</text>
<text transform="translate(265.8,731.2) scale(1,1.14)" fill="#ff00ff" font-size="17.4" letter-spacing="0.322">86.67</text>
<text transform="translate(1499,40.3) scale(1,1.14)" fill="#bc0000" font-size="17.4" >3</text>
<text transform="translate(1499,95.6) scale(1,1.14)" fill="#bc0000" font-size="17.4" >3</text>
<text transform="translate(1499,205.1) scale(1,1.14)" fill="#bc0000" font-size="17.4" >3</text>
<text transform="translate(1499,260.9) scale(1,1.14)" fill="#bc0000" font-size="17.4" >2</text>
<text transform="translate(1499,316.1) scale(1,1.14)" fill="#bc0000" font-size="17.4" >2</text>
<text transform="translate(1499,371.8) scale(1,1.14)" fill="#bc0000" font-size="17.4" >2</text>
<text transform="translate(1499,427.2) scale(1,1.14)" fill="#bc0000" font-size="17.4" >2</text>
<text transform="translate(1499,482.8) scale(1,1.14)" fill="#bc0000" font-size="17.4" >2</text>
<rect x="1469.4" y="143.7" width="50" height="23.2" fill="#0000ff"/>
<text transform="translate(1470.8,161.3) scale(1,1.14)" fill="#ffffff" font-size="17.4" >3058</text>
<text transform="translate(1489.3,568.5) scale(1,1.14)" fill="#bc0000" font-size="17.4" >60</text>
<text transform="translate(1489.3,617.6) scale(1,1.14)" fill="#bc0000" font-size="17.4" >40</text>
<text transform="translate(1489.3,667.2) scale(1,1.14)" fill="#bc0000" font-size="17.4" >20</text>
<text transform="translate(1471.8,706.8) scale(1,1.14)" fill="#bc0000" font-size="16.5" >X1万</text>
<text transform="translate(1484.8,763.5) scale(1,1.14)" fill="#bc0000" font-size="17.4" >100</text>
<text transform="translate(1494.6,786) scale(1,1.14)" fill="#bc0000" font-size="17.4" >80</text>
<text transform="translate(1494.6,819.5) scale(1,1.14)" fill="#bc0000" font-size="17.4" >50</text>
<text transform="translate(1494.6,852.5) scale(1,1.14)" fill="#bc0000" font-size="17.4" >20</text>
<text transform="translate(1504.6,874) scale(1,1.14)" fill="#bc0000" font-size="17.4" >0</text>
</g>
</svg>
</body></html>
